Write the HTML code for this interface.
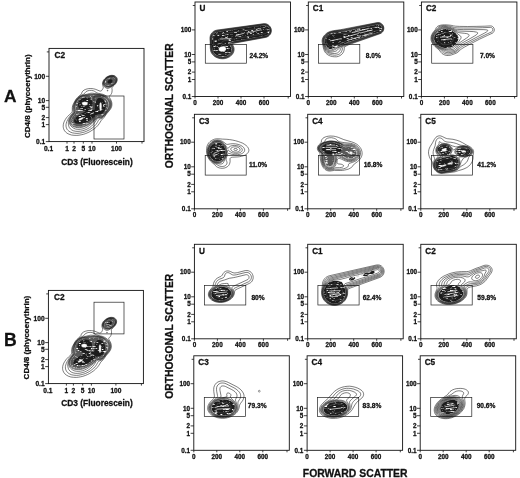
<!DOCTYPE html>
<html lang="en">
<head>
<meta charset="utf-8">
<title>Flow cytometry contour plots</title>
<style>
html,body{margin:0;padding:0;background:#fff;}
body{width:520px;height:478px;overflow:hidden;}
svg text{font-family:"Liberation Sans",sans-serif;stroke:#111;stroke-width:0.28px;stroke-linejoin:round;}
</style>
</head>
<body>
<svg width="520" height="478" viewBox="0 0 520 478" font-family='"Liberation Sans", sans-serif' fill="#111" style="display:block">
<defs>
<filter id="mot" x="0" y="0" width="520" height="478" filterUnits="userSpaceOnUse" color-interpolation-filters="sRGB">
<feTurbulence type="fractalNoise" baseFrequency="0.28 0.95" numOctaves="2" seed="11" result="n"/>
<feColorMatrix in="n" type="matrix" values="0 0 0 0 0  0 0 0 0 0  0 0 0 0 0  -4.6 0 0 0 3.62" result="a"/>
<feComposite in="SourceGraphic" in2="a" operator="in"/>
</filter>
</defs>
<g filter="url(#mot)"><path d="M224.2 56.5L222.5 56.7L220.8 56.5L219.0 56.1L217.2 55.4L215.8 54.6L214.5 53.5L213.6 52.2L212.9 51.0L212.3 49.2L212.0 47.0L211.8 39.8L211.8 38.0L212.1 36.5L212.8 35.0L213.8 33.8L214.8 33.0L216.0 32.4L217.0 32.1L264.0 25.4L265.2 25.5L266.5 25.9L267.8 26.7L268.7 27.8L269.2 28.8L269.5 30.0L269.6 31.0L269.3 32.2L268.8 33.2L268.1 34.2L267.2 34.9L266.2 35.4L265.2 35.7L232.2 41.5L229.9 42.0L228.7 42.5L228.4 42.8L228.3 43.0L228.4 43.5L230.4 46.0L230.9 46.8L231.2 47.8L231.4 48.5L231.5 49.5L231.4 50.5L231.2 51.2L230.9 52.0L230.3 53.0L229.7 53.8L228.8 54.6L227.8 55.3L226.5 55.9L225.2 56.3Z" fill="#1c1c1c" fill-rule="evenodd" stroke="none"/>
<path d="M330.6 49.0L329.6 49.0L328.8 48.7L328.1 48.2L327.2 47.2L326.2 45.5L325.2 43.5L324.8 42.0L324.6 40.8L324.7 39.8L324.9 38.8L325.3 37.8L326.0 36.8L326.8 35.8L327.8 34.9L328.8 34.2L330.1 33.6L332.1 32.9L335.1 32.3L337.6 32.0L342.8 31.8L345.6 31.4L377.6 24.5L378.8 24.6L380.0 25.0L380.9 25.8L381.6 26.8L381.8 27.5L381.9 28.2L381.8 29.0L381.6 29.8L381.3 30.3L380.8 31.0L380.3 31.4L379.6 31.8L348.4 42.0L345.8 43.0L339.8 45.7L335.1 47.6L332.1 48.7Z" fill="#1c1c1c" fill-rule="evenodd" stroke="none"/>
<path d="M448.6 48.0L446.6 48.2L444.6 48.0L442.4 47.4L440.1 46.5L438.4 45.5L436.8 44.2L435.5 42.8L434.7 41.2L434.2 39.8L434.1 38.0L434.4 36.2L435.1 34.8L436.1 33.2L437.4 32.0L439.1 30.8L440.9 29.9L442.1 29.5L443.1 29.2L445.1 29.0L446.4 29.1L447.6 29.3L450.4 30.1L452.6 31.1L453.9 31.9L455.1 32.8L456.9 34.5L457.6 35.5L458.0 36.2L458.3 37.0L458.4 37.8L458.4 38.5L458.2 39.5L457.9 40.5L457.4 41.5L455.9 43.8L454.1 45.4L452.4 46.7L450.6 47.5Z" fill="#1c1c1c" fill-rule="evenodd" stroke="none"/>
<path d="M219.2 161.3L217.7 161.5L215.9 161.4L214.4 160.8L212.9 159.9L211.7 158.8L210.6 157.3L209.7 155.6L209.2 153.6L209.1 151.8L209.2 149.8L209.7 148.1L210.6 146.3L211.7 144.9L212.9 143.8L214.4 142.9L216.2 142.4L217.9 142.4L219.4 142.7L220.9 143.3L222.2 144.2L223.2 145.3L224.2 146.8L225.0 148.6L225.3 150.1L225.5 151.8L225.3 153.8L224.8 155.6L224.0 157.3L223.0 158.8L221.9 159.9L220.7 160.8Z" fill="#1c1c1c" fill-rule="evenodd" stroke="none"/>
<path d="M329.9 166.3L328.7 166.3L327.4 165.8L326.3 164.8L325.4 163.6L324.9 162.6L324.5 161.6L324.0 159.3L324.0 157.3L324.4 154.8L324.3 154.3L323.8 153.6L321.7 151.8L321.0 151.1L320.4 150.3L319.9 149.3L319.8 148.6L319.8 147.8L320.2 146.6L321.2 145.3L322.7 144.2L324.2 143.4L325.4 143.0L327.2 142.5L328.7 142.2L330.2 142.1L331.9 142.1L333.4 142.2L335.2 142.4L337.4 143.0L339.7 143.9L341.4 144.9L343.7 146.7L344.4 147.1L345.4 147.3L347.9 147.1L349.4 147.1L350.9 147.3L352.2 147.7L353.2 148.1L354.2 148.8L354.9 149.5L355.6 150.3L356.1 151.6L356.4 152.8L356.3 154.1L355.8 155.3L355.1 156.3L354.1 157.3L352.9 158.0L351.4 158.5L350.4 158.6L349.2 158.6L347.9 158.4L346.9 158.1L345.2 157.2L341.4 154.7L339.9 154.0L339.2 154.0L337.9 154.1L336.7 154.3L335.4 154.8L335.0 155.1L334.8 155.6L334.7 158.1L334.5 159.8L334.1 161.8L333.4 163.5L332.8 164.6L331.9 165.5L330.9 166.1Z" fill="#585858" fill-rule="evenodd" stroke="none"/>
<path d="M331.4 154.3L330.4 154.4L329.4 154.3L328.4 154.2L327.4 153.9L326.4 153.5L325.4 152.9L323.4 151.3L322.7 150.6L322.2 149.9L321.9 149.3L321.8 148.6L321.8 148.1L321.9 147.3L322.2 146.8L322.7 146.1L323.4 145.4L324.4 144.8L325.4 144.3L326.7 143.8L329.2 143.3L331.9 143.2L333.4 143.3L334.9 143.5L337.4 144.3L339.4 145.3L340.4 146.1L341.1 146.8L341.8 148.1L341.9 148.8L341.9 149.3L341.8 149.8L341.6 150.3L340.7 151.2L339.4 151.9L337.9 152.6L333.2 153.9Z" fill="#1c1c1c" fill-rule="evenodd" stroke="none"/>
<path d="M444.8 155.3L443.5 155.3L442.5 155.1L441.3 154.7L440.3 154.2L439.4 153.6L438.6 152.8L438.1 152.1L437.7 151.1L437.6 150.3L437.7 149.3L438.0 148.3L438.4 147.6L439.0 146.8L439.8 146.2L440.8 145.6L441.8 145.2L443.0 144.9L444.5 144.9L446.0 145.1L447.3 145.5L448.5 146.1L449.5 146.9L450.4 148.1L450.8 149.1L451.0 150.3L450.8 151.3L450.4 152.3L449.6 153.3L448.5 154.2L447.5 154.7L446.0 155.2ZM463.8 155.8L461.8 155.7L460.0 155.4L458.5 154.7L457.3 153.8L456.5 152.8L456.2 151.8L456.2 151.3L456.4 150.6L457.1 149.6L458.0 148.7L459.5 148.0L461.3 147.5L463.0 147.3L464.8 147.4L466.5 147.8L468.0 148.4L469.3 149.3L470.0 150.3L470.3 151.3L470.3 152.1L470.1 152.6L469.5 153.6L468.5 154.4L467.0 155.1L465.3 155.6ZM442.8 171.3L441.8 171.4L440.8 171.3L439.8 171.1L438.8 170.6L437.8 170.0L437.0 169.3L436.4 168.6L435.9 167.6L435.5 166.6L435.3 165.6L435.3 164.6L435.4 163.3L435.7 162.3L436.2 161.3L436.8 160.5L437.5 159.8L438.8 158.9L440.3 158.3L446.8 156.9L451.3 156.1L452.8 156.1L454.3 156.6L455.5 157.2L456.8 158.3L457.5 159.3L458.2 160.6L458.5 161.8L458.6 163.1L458.4 164.3L457.9 165.8L457.3 166.8L456.5 167.8L455.0 168.8L453.5 169.4Z" fill="#1c1c1c" fill-rule="evenodd" stroke="none"/>
<path d="M222.9 300.3L221.4 300.5L219.9 300.5L218.7 300.4L217.2 300.1L215.9 299.7L214.7 299.2L213.7 298.5L212.7 297.6L212.0 296.8L211.5 295.8L211.3 294.8L211.3 293.8L211.5 292.8L212.0 291.8L212.7 290.8L213.4 290.1L215.2 288.8L217.4 287.7L219.7 287.0L221.9 286.7L224.2 286.9L226.2 287.4L227.2 287.8L228.2 288.4L228.9 288.9L229.7 289.6L230.2 290.3L230.7 291.1L231.0 291.8L231.2 292.8L231.2 293.6L231.0 294.6L230.7 295.3L230.3 296.1L229.8 296.8L229.1 297.6L227.4 298.7L225.4 299.7Z" fill="#1c1c1c" fill-rule="evenodd" stroke="none"/>
<path d="M366.2 276.1L364.9 276.2L363.7 276.0L363.3 275.8L363.1 275.6L363.0 275.3L363.1 274.8L363.4 274.3L363.9 273.8L365.2 273.1L366.2 272.7L366.9 272.6L369.2 272.8L369.7 272.5L370.7 271.6L371.9 271.0L372.9 270.9L373.7 271.1L374.2 271.3L374.6 271.8L374.6 272.3L374.4 272.8L373.8 273.3L373.2 273.7L371.9 274.0L370.2 274.0L369.7 274.1L367.9 275.4L366.9 275.9ZM351.7 280.6L350.9 280.6L350.2 280.5L349.7 280.3L349.2 279.8L349.1 279.6L349.1 279.1L349.4 278.6L349.9 278.1L350.6 277.6L351.2 277.2L352.7 276.9L353.4 276.9L354.2 277.0L354.8 277.3L355.0 277.6L355.2 277.8L355.2 278.3L355.0 278.8L354.6 279.3L354.0 279.8L353.2 280.2ZM335.9 303.3L333.7 303.4L331.4 302.9L329.4 302.1L328.4 301.5L327.4 300.8L326.6 300.1L325.8 299.1L325.1 298.1L324.6 297.1L324.1 295.8L323.9 294.8L323.7 292.8L323.9 290.6L324.2 289.3L324.6 288.1L325.8 285.8L326.5 284.8L327.4 283.8L328.9 282.6L329.7 282.1L330.7 281.7L333.2 281.1L335.7 280.9L337.9 281.1L339.9 281.4L341.2 281.8L341.7 282.1L342.1 282.6L342.6 283.3L343.3 284.8L344.6 288.1L345.3 290.6L345.5 292.6L345.3 294.6L344.8 296.6L343.9 298.3L342.8 299.8L341.4 301.1L339.7 302.2L337.9 302.9Z" fill="#1c1c1c" fill-rule="evenodd" stroke="none"/>
<path d="M451.0 302.1L448.3 302.1L445.5 301.7L443.3 301.0L442.3 300.5L441.3 299.9L440.5 299.3L439.9 298.6L439.3 297.8L439.0 297.1L438.7 296.3L438.6 295.3L438.7 294.6L438.9 293.6L439.1 292.8L439.7 291.8L440.4 290.8L441.3 289.9L443.3 288.3L445.8 286.9L448.8 285.7L450.5 285.2L451.8 285.0L454.0 284.9L455.3 285.1L456.3 285.4L458.0 286.1L459.8 287.2L461.1 288.3L462.2 289.6L462.9 290.8L463.3 292.1L463.4 293.3L463.1 294.8L462.5 296.1L461.5 297.4L460.3 298.6L458.8 299.6L457.3 300.4L455.3 301.2L453.3 301.7Z" fill="#1c1c1c" fill-rule="evenodd" stroke="none"/>
<path d="M224.1 415.6L222.3 415.6L220.3 415.4L218.8 415.2L217.1 414.6L215.6 413.9L214.3 413.0L213.2 412.1L212.3 410.8L211.8 409.6L211.6 408.3L211.6 407.1L212.0 405.8L212.7 404.6L213.8 403.3L214.9 402.3L216.3 401.4L218.6 400.4L221.3 399.7L224.1 399.5L226.6 399.7L228.8 400.2L230.1 400.7L231.1 401.3L232.1 401.9L232.8 402.6L233.6 403.5L234.1 404.3L234.5 405.1L234.8 406.1L234.9 407.1L234.8 408.1L234.7 408.8L234.3 409.8L233.7 410.8L233.1 411.6L232.4 412.3L231.4 413.1L229.3 414.3L226.8 415.1Z" fill="#1c1c1c" fill-rule="evenodd" stroke="none"/>
<path d="M335.1 415.3L332.1 415.3L330.6 415.2L329.4 414.9L327.9 414.4L326.9 414.0L325.9 413.4L325.1 412.8L324.4 412.1L324.0 411.3L323.7 410.6L323.6 409.6L323.7 408.6L324.0 407.8L324.6 406.8L325.2 406.1L326.1 405.2L327.1 404.4L328.4 403.7L329.9 402.9L331.4 402.4L332.9 402.0L335.9 401.4L338.9 401.3L340.1 401.4L341.6 401.7L342.9 402.1L343.9 402.5L344.9 403.1L345.7 403.8L346.4 404.6L346.9 405.3L347.2 406.1L347.4 407.1L347.3 408.1L347.0 409.1L346.4 410.1L345.8 410.8L344.9 411.7L343.9 412.5L342.6 413.2L341.1 413.9L339.6 414.5L338.1 414.9Z" fill="#1c1c1c" fill-rule="evenodd" stroke="none"/>
<path d="M448.7 414.1L446.4 414.1L444.4 413.8L443.4 413.5L442.7 413.1L441.9 412.6L441.4 412.1L440.8 411.3L440.5 410.6L440.3 409.8L440.2 409.1L440.4 407.6L440.6 406.8L441.1 405.8L441.7 404.8L442.4 404.1L443.9 402.6L445.9 401.4L448.2 400.4L450.4 399.9L452.7 399.8L454.7 400.1L455.7 400.4L456.4 400.8L457.4 401.5L458.2 402.3L458.6 403.1L458.9 404.1L459.0 405.1L458.9 406.1L458.6 407.3L458.1 408.3L457.4 409.3L456.5 410.3L455.4 411.2L454.2 412.1L452.9 412.8L451.4 413.4L450.2 413.8Z" fill="#1c1c1c" fill-rule="evenodd" stroke="none"/>
<path d="M109.8 85.7L108.5 85.8L107.5 85.8L106.5 85.4L105.7 84.9L105.1 84.2L104.8 83.2L104.9 82.2L105.2 81.2L105.7 80.2L106.6 79.2L107.8 78.3L108.8 77.7L110.0 77.3L111.2 77.1L112.2 77.1L113.2 77.4L113.8 77.7L114.4 78.2L114.7 78.7L115.0 79.2L115.1 79.7L115.1 80.4L114.8 81.7L114.0 83.0L112.8 84.2L111.5 85.0ZM80.5 126.2L78.8 126.3L77.0 126.2L75.2 125.8L73.8 125.3L72.8 124.6L71.8 123.7L71.3 122.7L71.0 121.4L71.0 120.7L71.1 119.7L71.4 118.7L71.9 117.7L72.9 115.9L75.4 112.9L75.8 112.2L76.1 111.4L76.2 110.4L75.8 108.4L75.7 107.2L75.7 105.9L75.9 104.7L76.3 102.9L76.8 101.7L77.5 100.4L78.3 99.4L79.2 98.5L80.5 97.6L81.8 97.0L83.2 96.4L85.8 96.0L92.8 95.6L94.5 95.6L99.0 95.8L100.8 96.0L102.0 96.3L103.0 96.8L104.0 97.4L105.0 98.2L106.7 99.9L107.7 101.4L108.1 102.4L108.3 103.2L108.5 104.9L108.2 106.7L107.4 108.7L105.6 111.9L104.1 113.9L103.0 115.0L101.8 115.8L100.5 116.1L98.0 116.3L97.0 116.8L96.2 117.4L93.8 119.8L92.2 121.1L90.2 122.6L88.2 123.7L86.5 124.6L84.5 125.3L82.5 125.8Z" fill="#585858" fill-rule="evenodd" stroke="none"/>
<path d="M110.2 83.4L109.5 83.6L109.0 83.6L108.5 83.5L108.0 83.3L107.5 82.6L107.4 82.2L107.5 81.5L107.8 80.9L108.2 80.4L109.2 79.7L109.9 79.4L110.5 79.3L111.5 79.4L112.0 79.7L112.4 80.2L112.5 80.7L112.4 81.4L112.0 82.2L111.6 82.7L110.8 83.2ZM81.5 123.7L80.0 123.8L78.5 123.8L77.2 123.7L76.2 123.4L75.2 122.9L74.7 122.4L74.2 121.7L74.1 120.9L74.2 119.9L74.5 119.1L75.7 117.7L77.0 116.4L78.5 115.3L80.0 114.3L84.5 111.9L85.6 111.2L85.6 110.9L82.8 110.4L81.2 109.8L80.2 109.2L79.5 108.6L78.9 107.7L78.4 106.7L78.2 105.9L78.0 104.9L78.0 103.9L78.2 103.2L78.5 102.2L79.0 101.2L79.6 100.4L80.7 99.4L81.8 98.7L83.0 98.1L84.5 97.7L86.0 97.6L87.5 97.7L89.2 98.0L90.4 98.4L91.4 99.7L92.2 101.2L92.6 102.7L92.6 104.2L92.3 105.4L91.6 106.9L90.8 108.1L89.2 109.7L89.1 109.9L89.2 110.1L89.8 110.2L93.5 110.1L94.4 109.9L94.8 109.4L95.0 108.4L95.0 105.2L95.4 103.2L95.8 101.7L96.4 100.4L97.0 99.4L97.5 98.7L97.8 98.4L98.5 98.1L99.5 97.9L100.2 98.0L101.0 98.1L101.8 98.4L103.0 99.2L104.1 100.4L105.0 101.9L105.5 103.7L105.7 105.4L105.6 107.4L105.2 109.2L104.4 110.9L103.4 112.4L102.3 113.4L101.2 114.0L100.2 114.2L97.8 114.5L96.2 115.1L95.8 115.4L94.5 116.7L91.2 119.3L89.5 120.5L87.8 121.5L86.2 122.2L84.8 122.8L83.2 123.3Z" fill="#1c1c1c" fill-rule="evenodd" stroke="none"/>
<path d="M109.2 327.7L107.9 327.8L106.9 327.8L105.9 327.4L105.1 326.9L104.5 326.1L104.2 325.1L104.3 324.1L104.6 323.1L105.1 322.1L106.0 321.1L107.2 320.3L108.2 319.7L109.4 319.3L110.7 319.1L111.7 319.1L112.7 319.4L113.2 319.7L113.8 320.1L114.1 320.6L114.4 321.1L114.5 321.6L114.5 322.4L114.2 323.6L113.4 325.0L112.2 326.2L110.9 327.0ZM79.9 368.2L78.2 368.3L76.4 368.2L74.7 367.8L73.2 367.3L72.2 366.6L71.2 365.6L70.7 364.6L70.4 363.4L70.4 362.6L70.5 361.6L70.8 360.6L71.3 359.6L72.3 357.9L74.8 354.9L75.2 354.1L75.5 353.4L75.6 352.4L75.2 350.4L75.1 349.1L75.1 347.9L75.3 346.6L75.7 344.9L76.2 343.6L76.9 342.4L77.7 341.4L78.7 340.5L79.9 339.6L81.2 339.0L82.7 338.4L85.2 338.0L92.2 337.6L93.9 337.6L98.4 337.8L100.2 338.0L101.4 338.3L102.4 338.8L103.4 339.4L104.4 340.1L106.1 341.9L107.1 343.4L107.5 344.4L107.7 345.1L107.9 346.9L107.6 348.6L106.8 350.6L105.0 353.9L103.5 355.9L102.4 357.0L101.2 357.8L99.9 358.1L97.4 358.3L96.4 358.8L95.6 359.4L93.2 361.8L91.7 363.1L89.7 364.6L87.7 365.7L85.9 366.6L83.9 367.3L81.9 367.8Z" fill="#585858" fill-rule="evenodd" stroke="none"/>
<path d="M109.7 325.4L108.9 325.6L108.4 325.6L107.9 325.5L107.4 325.3L106.9 324.6L106.8 324.1L106.9 323.5L107.2 322.9L107.6 322.4L108.6 321.6L109.3 321.4L109.9 321.3L110.9 321.4L111.4 321.7L111.8 322.1L111.9 322.6L111.8 323.4L111.4 324.1L111.0 324.6L110.2 325.1ZM80.9 365.7L79.4 365.8L77.9 365.8L76.7 365.7L75.7 365.4L74.7 364.9L74.1 364.4L73.6 363.6L73.5 362.9L73.6 361.9L73.9 361.1L75.1 359.6L76.4 358.4L77.9 357.3L79.4 356.3L83.9 353.9L85.0 353.1L85.0 352.9L82.2 352.4L80.7 351.8L79.7 351.2L78.9 350.6L78.3 349.6L77.8 348.6L77.6 347.9L77.4 346.9L77.4 345.9L77.6 345.1L77.9 344.1L78.4 343.1L79.0 342.4L80.1 341.4L81.2 340.7L82.4 340.1L83.9 339.7L85.4 339.6L86.9 339.7L88.7 340.0L89.8 340.4L90.8 341.6L91.6 343.1L92.0 344.6L92.0 346.1L91.7 347.4L91.0 348.9L90.2 350.1L88.6 351.6L88.5 351.9L88.7 352.1L89.2 352.2L92.9 352.1L93.8 351.9L94.2 351.4L94.4 350.4L94.4 347.1L94.8 345.1L95.2 343.6L95.8 342.4L96.4 341.4L96.9 340.7L97.2 340.4L97.9 340.1L98.9 339.9L99.7 340.0L100.4 340.1L101.2 340.4L102.4 341.1L103.5 342.4L104.4 343.9L104.9 345.6L105.1 347.4L105.0 349.4L104.6 351.1L103.8 352.9L102.8 354.4L101.7 355.4L100.7 356.0L99.7 356.2L97.2 356.5L95.7 357.1L95.2 357.4L93.9 358.7L90.7 361.3L88.9 362.5L87.2 363.5L85.7 364.2L84.2 364.8L82.7 365.3Z" fill="#1c1c1c" fill-rule="evenodd" stroke="none"/></g>
<rect x="195.00" y="2.00" width="95.50" height="94.50" fill="none" stroke="#111" stroke-width="0.90"/>
<line x1="191.80" y1="29.90" x2="195.00" y2="29.90" stroke="#111" stroke-width="0.80"/>
<text x="191.30" y="32.15" font-size="6.35" font-weight="bold" text-anchor="end">100</text>
<line x1="191.80" y1="54.50" x2="195.00" y2="54.50" stroke="#111" stroke-width="0.80"/>
<text x="191.30" y="56.75" font-size="6.35" font-weight="bold" text-anchor="end">10</text>
<line x1="191.80" y1="61.90" x2="195.00" y2="61.90" stroke="#111" stroke-width="0.80"/>
<text x="191.30" y="64.15" font-size="6.35" font-weight="bold" text-anchor="end">5</text>
<line x1="191.80" y1="72.10" x2="195.00" y2="72.10" stroke="#111" stroke-width="0.80"/>
<text x="191.30" y="74.35" font-size="6.35" font-weight="bold" text-anchor="end">2</text>
<line x1="191.80" y1="79.50" x2="195.00" y2="79.50" stroke="#111" stroke-width="0.80"/>
<text x="191.30" y="81.75" font-size="6.35" font-weight="bold" text-anchor="end">1</text>
<line x1="191.80" y1="96.50" x2="195.00" y2="96.50" stroke="#111" stroke-width="0.80"/>
<text x="191.30" y="98.75" font-size="6.35" font-weight="bold" text-anchor="end">0.1</text>
<line x1="192.80" y1="5.50" x2="195.00" y2="5.50" stroke="#111" stroke-width="0.80"/>
<line x1="195.00" y1="96.50" x2="195.00" y2="98.50" stroke="#111" stroke-width="0.80"/>
<text x="195.00" y="104.70" font-size="6.35" font-weight="bold" text-anchor="middle">0</text>
<line x1="218.00" y1="96.50" x2="218.00" y2="98.50" stroke="#111" stroke-width="0.80"/>
<text x="218.00" y="104.70" font-size="6.35" font-weight="bold" text-anchor="middle">200</text>
<line x1="241.00" y1="96.50" x2="241.00" y2="98.50" stroke="#111" stroke-width="0.80"/>
<text x="241.00" y="104.70" font-size="6.35" font-weight="bold" text-anchor="middle">400</text>
<line x1="264.00" y1="96.50" x2="264.00" y2="98.50" stroke="#111" stroke-width="0.80"/>
<text x="264.00" y="104.70" font-size="6.35" font-weight="bold" text-anchor="middle">600</text>
<line x1="288.20" y1="96.50" x2="288.20" y2="98.50" stroke="#111" stroke-width="0.80"/>
<text x="199.50" y="11.40" font-size="8.20" font-weight="bold" text-anchor="start">U</text>
<rect x="205.30" y="44.40" width="41.20" height="18.80" fill="none" stroke="#222" stroke-width="0.70"/>
<path d="M222.8 58.8L220.8 58.7L219.0 58.4L217.2 57.8L215.2 56.9L213.8 55.8L212.5 54.5L211.6 53.2L210.8 51.5L210.5 49.8L210.3 48.2L210.2 42.2L210.0 38.8L210.1 37.0L210.4 35.5L211.1 34.0L212.2 32.5L213.5 31.4L215.0 30.6L216.8 30.1L263.8 23.7L264.8 23.7L265.8 23.8L266.8 24.1L267.5 24.4L269.0 25.4L270.2 26.8L270.9 28.2L271.3 29.8L271.3 31.0L271.1 32.5L270.5 34.0L269.6 35.2L268.5 36.2L267.2 36.9L265.8 37.4L235.0 43.0L233.8 43.3L232.8 43.6L232.5 43.9L232.5 44.2L233.4 46.2L233.8 47.2L234.1 48.5L234.1 49.5L234.0 50.8L233.6 52.0L233.2 53.0L232.6 54.0L231.8 55.0L230.8 56.0L229.8 56.7L228.5 57.4L227.2 57.9L225.8 58.4L224.2 58.7ZM224.0 58.3L222.0 58.4L220.0 58.2L218.0 57.6L216.2 56.9L214.5 55.8L213.3 54.8L212.1 53.2L211.4 51.8L210.9 50.0L210.7 48.0L210.5 41.8L210.4 39.0L210.4 37.5L210.7 36.0L211.4 34.2L212.5 32.8L213.8 31.7L215.2 31.0L216.8 30.5L263.8 24.0L265.5 24.1L266.5 24.3L267.2 24.6L268.0 25.1L268.8 25.6L269.4 26.2L269.9 27.0L270.6 28.2L271.0 29.8L271.0 31.2L270.6 32.8L270.1 34.0L269.2 35.1L268.2 36.0L267.0 36.7L265.5 37.1L234.2 42.8L233.0 43.0L232.0 43.4L231.7 43.8L231.8 44.2L233.1 46.8L233.4 47.8L233.6 49.0L233.6 50.0L233.4 51.0L233.1 52.0L232.7 53.0L232.0 54.0L231.1 55.0L230.2 55.8L229.0 56.6L228.0 57.2L226.8 57.7L225.2 58.1ZM224.8 57.8L222.8 58.0L220.8 57.9L219.0 57.6L217.0 56.9L215.2 55.9L214.0 54.9L212.8 53.5L211.9 52.0L211.3 50.2L211.0 47.8L210.7 39.0L210.7 37.8L211.0 36.0L211.7 34.5L212.6 33.2L213.8 32.2L215.2 31.3L216.8 30.9L263.8 24.3L265.5 24.4L267.0 24.9L267.8 25.3L268.5 25.8L269.6 27.0L270.3 28.5L270.6 29.8L270.7 31.2L270.4 32.5L269.8 33.8L269.0 34.9L268.0 35.8L266.8 36.4L265.2 36.8L233.7 42.5L232.0 42.9L231.3 43.2L231.1 43.5L231.1 44.0L232.5 46.5L232.9 47.5L233.1 48.5L233.1 50.2L232.9 51.2L232.5 52.2L232.0 53.2L231.3 54.2L230.5 55.0L229.5 55.9L228.2 56.6L227.2 57.1L226.2 57.4ZM224.2 57.5L222.2 57.7L220.5 57.5L218.8 57.1L216.8 56.4L215.2 55.5L213.8 54.2L212.8 53.0L212.1 51.5L211.5 49.8L211.2 47.2L211.0 39.2L211.0 37.8L211.4 36.0L211.9 34.8L212.8 33.5L214.0 32.4L215.5 31.6L217.0 31.2L263.8 24.6L265.2 24.6L266.2 24.9L267.0 25.2L268.3 26.0L269.4 27.2L270.0 28.5L270.4 29.8L270.4 31.0L270.2 32.2L269.7 33.5L269.0 34.5L268.0 35.4L266.8 36.1L266.0 36.4L265.0 36.6L233.3 42.2L231.8 42.6L230.7 43.0L230.5 43.2L230.4 43.8L232.1 46.5L232.5 47.5L232.7 48.5L232.7 49.5L232.6 50.5L232.1 52.2L231.5 53.2L230.8 54.2L230.0 55.0L229.0 55.8L228.0 56.3L226.8 56.9L225.5 57.3ZM223.8 57.3L222.0 57.3L220.0 57.1L218.2 56.6L216.5 55.9L215.0 54.9L213.8 53.8L212.9 52.5L212.2 51.0L211.7 49.0L211.4 46.8L211.2 39.2L211.3 37.5L211.7 36.0L212.4 34.5L213.2 33.4L214.5 32.4L215.8 31.8L217.0 31.5L264.0 24.9L265.5 25.0L267.0 25.5L268.2 26.3L269.2 27.5L269.8 28.8L270.1 29.8L270.1 31.0L269.9 32.2L269.4 33.5L268.6 34.5L267.5 35.4L266.5 35.9L264.8 36.4L233.0 42.0L231.2 42.4L230.3 42.8L229.9 43.0L229.8 43.2L229.8 43.8L231.5 46.2L232.0 47.2L232.2 48.2L232.3 49.0L232.3 50.0L232.1 51.0L231.8 52.0L231.3 53.0L230.5 54.0L229.7 54.8L228.8 55.5L227.8 56.1L226.5 56.6L225.0 57.1ZM222.8 57.0L221.0 56.9L219.2 56.6L217.5 56.0L216.0 55.2L214.8 54.2L213.8 53.1L212.9 51.8L212.4 50.5L211.9 48.5L211.7 46.5L211.5 39.5L211.6 37.8L211.9 36.2L212.6 34.8L213.5 33.6L214.8 32.6L215.8 32.1L217.0 31.8L264.0 25.2L265.2 25.2L266.8 25.7L268.0 26.5L269.1 27.8L269.5 28.8L269.8 30.0L269.8 31.0L269.6 32.2L269.2 33.2L268.5 34.2L267.5 35.1L266.5 35.6L265.5 36.0L232.7 41.8L230.4 42.2L229.5 42.6L229.1 43.0L229.1 43.5L229.4 44.0L230.5 45.4L231.1 46.2L231.5 47.2L231.8 48.2L231.9 49.2L231.9 50.2L231.6 51.2L231.3 52.0L230.8 53.0L230.0 54.0L229.0 54.9L228.0 55.6L226.8 56.2L225.5 56.6L224.2 56.9Z" fill="none" stroke="#111" stroke-width="0.55" stroke-linejoin="round"/>
<path d="M223.5 54.0L222.2 54.1L220.8 53.9L219.2 53.5L217.5 52.8L216.5 52.2L215.7 51.5L215.0 50.6L214.4 49.5L214.1 48.5L213.9 47.2L213.9 44.0L213.4 40.8L213.4 39.0L213.6 37.8L214.1 36.5L214.9 35.5L215.8 34.8L216.5 34.5L217.2 34.3L221.5 33.9L264.0 27.5L265.0 27.5L265.8 27.8L266.5 28.3L267.1 29.0L267.3 29.5L267.5 30.2L267.5 31.0L267.3 31.8L267.0 32.3L266.5 32.9L266.0 33.3L265.2 33.6L228.2 39.9L224.8 40.6L222.8 41.3L222.2 41.8L221.8 42.4L221.7 43.0L222.0 43.7L222.8 44.2L225.5 45.3L226.8 46.2L227.3 46.8L227.8 47.5L228.1 48.2L228.3 49.2L228.3 50.0L228.0 50.9L227.5 51.8L227.0 52.4L226.2 53.0L225.5 53.4L224.5 53.8Z" fill="none" stroke="#666" stroke-width="0.40" stroke-linejoin="round"/>
<ellipse cx="222.4" cy="49.0" rx="3.7" ry="2.6" transform="rotate(-8 222.4 49.0)" fill="#fff" stroke="#888" stroke-width="0.3"/>
<path d="M220.0 39.0L231.0 38.6M236.0 35.6L244.0 33.2M247.0 33.0L261.0 29.8" fill="none" stroke="#fff" stroke-opacity="0.85" stroke-width="0.8" stroke-linecap="round"/>
<text x="249.50" y="58.00" font-size="6.60" font-weight="bold" text-anchor="start">24.2%</text>
<rect x="308.30" y="2.00" width="95.50" height="94.50" fill="none" stroke="#111" stroke-width="0.90"/>
<line x1="305.10" y1="29.90" x2="308.30" y2="29.90" stroke="#111" stroke-width="0.80"/>
<text x="304.60" y="32.15" font-size="6.35" font-weight="bold" text-anchor="end">100</text>
<line x1="305.10" y1="54.50" x2="308.30" y2="54.50" stroke="#111" stroke-width="0.80"/>
<text x="304.60" y="56.75" font-size="6.35" font-weight="bold" text-anchor="end">10</text>
<line x1="305.10" y1="61.90" x2="308.30" y2="61.90" stroke="#111" stroke-width="0.80"/>
<text x="304.60" y="64.15" font-size="6.35" font-weight="bold" text-anchor="end">5</text>
<line x1="305.10" y1="72.10" x2="308.30" y2="72.10" stroke="#111" stroke-width="0.80"/>
<text x="304.60" y="74.35" font-size="6.35" font-weight="bold" text-anchor="end">2</text>
<line x1="305.10" y1="79.50" x2="308.30" y2="79.50" stroke="#111" stroke-width="0.80"/>
<text x="304.60" y="81.75" font-size="6.35" font-weight="bold" text-anchor="end">1</text>
<line x1="305.10" y1="96.50" x2="308.30" y2="96.50" stroke="#111" stroke-width="0.80"/>
<text x="304.60" y="98.75" font-size="6.35" font-weight="bold" text-anchor="end">0.1</text>
<line x1="306.10" y1="5.50" x2="308.30" y2="5.50" stroke="#111" stroke-width="0.80"/>
<line x1="308.30" y1="96.50" x2="308.30" y2="98.50" stroke="#111" stroke-width="0.80"/>
<text x="308.30" y="104.70" font-size="6.35" font-weight="bold" text-anchor="middle">0</text>
<line x1="331.30" y1="96.50" x2="331.30" y2="98.50" stroke="#111" stroke-width="0.80"/>
<text x="331.30" y="104.70" font-size="6.35" font-weight="bold" text-anchor="middle">200</text>
<line x1="354.30" y1="96.50" x2="354.30" y2="98.50" stroke="#111" stroke-width="0.80"/>
<text x="354.30" y="104.70" font-size="6.35" font-weight="bold" text-anchor="middle">400</text>
<line x1="377.30" y1="96.50" x2="377.30" y2="98.50" stroke="#111" stroke-width="0.80"/>
<text x="377.30" y="104.70" font-size="6.35" font-weight="bold" text-anchor="middle">600</text>
<line x1="401.50" y1="96.50" x2="401.50" y2="98.50" stroke="#111" stroke-width="0.80"/>
<text x="312.80" y="11.40" font-size="8.20" font-weight="bold" text-anchor="start">C1</text>
<rect x="318.60" y="44.40" width="41.20" height="18.80" fill="none" stroke="#222" stroke-width="0.70"/>
<path d="M336.6 56.8L334.6 56.8L332.6 56.6L330.6 56.1L328.6 55.3L327.1 54.3L325.9 53.2L324.8 51.8L324.1 50.2L323.4 48.0L322.8 44.8L322.2 42.2L322.1 41.0L322.2 39.8L322.7 38.0L323.7 36.2L325.1 34.6L326.8 33.1L328.1 32.3L329.1 31.9L330.3 31.4L331.6 31.1L335.3 30.4L340.2 29.8L343.1 29.2L377.3 22.6L378.3 22.5L379.1 22.6L380.6 23.1L381.8 23.9L382.8 25.0L383.4 26.0L383.7 27.0L383.9 28.2L383.7 29.5L383.4 30.5L382.9 31.5L382.3 32.3L381.3 33.1L380.1 33.7L351.3 43.8L348.6 44.8L346.5 45.8L345.3 46.5L344.8 47.0L344.5 47.5L344.3 48.2L344.1 50.0L343.8 51.2L343.2 52.5L342.3 53.8L341.1 54.9L339.8 55.7L338.3 56.4ZM336.6 55.0L334.8 55.2L332.8 55.0L330.6 54.6L328.8 54.0L327.6 53.2L326.4 52.2L325.5 51.0L324.7 49.5L324.1 47.8L322.8 42.5L322.6 41.0L322.7 39.8L323.2 38.0L324.2 36.2L325.8 34.5L327.6 33.1L329.6 32.1L330.8 31.7L332.3 31.3L335.1 30.8L339.9 30.2L343.1 29.8L377.3 22.9L378.8 22.9L380.3 23.3L381.1 23.8L381.7 24.2L382.2 24.8L382.7 25.5L383.2 26.5L383.5 27.5L383.5 28.5L383.4 29.5L382.9 30.8L382.5 31.5L381.8 32.2L381.1 32.8L379.8 33.4L350.5 43.5L347.8 44.5L345.6 45.5L343.9 46.5L342.9 47.5L342.5 48.2L342.1 50.2L341.7 51.2L341.2 52.2L340.6 53.0L339.8 53.7L338.8 54.3L337.8 54.7ZM336.3 53.3L334.6 53.5L332.1 53.4L330.3 53.2L329.1 52.8L327.8 52.2L326.8 51.3L325.9 50.2L325.2 48.8L324.6 47.2L323.2 42.2L323.1 40.8L323.2 39.5L323.7 38.0L324.7 36.2L326.1 34.7L327.8 33.4L328.8 32.8L330.1 32.3L332.8 31.6L335.6 31.1L341.0 30.5L344.1 30.0L377.3 23.3L378.8 23.3L379.6 23.4L380.3 23.7L381.6 24.6L382.5 25.8L382.9 26.5L383.1 27.5L383.2 28.5L383.0 29.5L382.7 30.5L382.2 31.2L381.6 32.0L380.8 32.6L379.8 33.1L350.0 43.2L347.2 44.2L344.8 45.2L342.6 46.5L341.4 47.5L340.7 48.5L339.8 50.8L339.3 51.4L338.8 52.0L337.7 52.8ZM332.1 52.0L330.6 52.1L329.1 51.8L327.8 51.1L326.8 50.2L326.1 49.1L325.4 47.8L323.9 43.2L323.6 41.8L323.5 40.5L323.6 39.2L324.0 38.2L324.6 37.0L325.5 35.8L326.5 34.8L327.8 33.8L329.1 33.1L331.1 32.3L333.8 31.7L336.1 31.3L341.3 30.8L343.6 30.5L377.6 23.5L379.1 23.6L380.3 24.1L381.0 24.5L381.6 25.0L382.0 25.5L382.4 26.2L382.7 27.0L382.9 28.0L382.9 28.8L382.7 29.8L382.3 30.5L381.8 31.3L381.1 32.1L380.3 32.5L350.9 42.5L346.0 44.2L343.2 45.5L340.6 47.0L339.1 48.2L337.3 50.2L336.3 50.9L334.8 51.5ZM330.6 51.0L329.3 50.9L328.3 50.4L327.3 49.6L326.6 48.8L325.7 47.0L324.4 43.5L324.0 42.0L323.9 41.0L323.9 39.8L324.1 38.8L324.6 37.8L325.1 36.8L325.9 35.8L327.1 34.7L328.3 33.8L329.6 33.1L331.6 32.4L334.6 31.8L337.3 31.5L341.8 31.1L344.3 30.8L377.6 23.8L378.3 23.8L379.1 23.9L380.3 24.4L381.4 25.2L382.2 26.5L382.5 27.2L382.6 28.0L382.5 29.0L382.3 29.8L382.0 30.5L381.5 31.2L380.8 31.9L380.1 32.3L346.9 43.5L343.8 44.8L341.2 46.0L339.3 47.0L335.8 49.2L334.8 49.7L332.3 50.7L331.3 50.9ZM331.6 49.8L330.3 50.0L329.3 49.9L328.3 49.4L327.3 48.5L326.5 47.2L325.2 44.5L324.6 42.8L324.3 41.2L324.2 40.2L324.4 39.0L324.9 37.8L325.5 36.8L326.4 35.8L327.3 34.9L328.3 34.2L329.8 33.4L331.8 32.7L334.8 32.1L337.1 31.8L342.3 31.4L345.3 31.0L377.6 24.2L378.8 24.2L380.1 24.6L381.1 25.4L381.8 26.5L382.1 27.2L382.2 28.0L382.2 29.0L382.0 29.8L381.6 30.5L381.1 31.2L380.6 31.7L379.8 32.1L347.0 43.0L343.4 44.5L335.1 48.4Z" fill="none" stroke="#111" stroke-width="0.55" stroke-linejoin="round"/>
<path d="M332.1 46.5L330.8 46.6L329.8 46.4L329.1 46.1L328.3 45.6L327.5 44.8L326.7 43.5L326.2 42.2L325.9 41.0L325.9 40.0L326.1 39.0L326.4 38.2L327.0 37.2L327.6 36.5L328.6 35.6L329.6 35.0L330.8 34.3L333.6 33.5L336.8 33.1L339.8 33.0L345.1 33.4L347.6 33.2L377.8 26.5L378.5 26.5L379.1 26.7L379.6 27.2L379.8 27.6L379.9 28.2L379.8 29.0L379.5 29.5L378.8 30.0L349.6 39.4L347.3 40.3L342.8 42.9L339.8 44.3L337.6 45.1L334.8 45.9Z" fill="none" stroke="#777" stroke-width="0.40" stroke-linejoin="round"/>
<path d="M330.3 40.8L341.3 38.6M345.3 37.0L358.3 33.6M360.3 33.0L372.3 30.0M348.3 40.0L360.3 36.8M352.3 32.6L368.3 28.6M362.3 36.0L372.3 33.2" fill="none" stroke="#fff" stroke-opacity="0.85" stroke-width="0.8" stroke-linecap="round"/>
<text x="365.80" y="58.00" font-size="6.60" font-weight="bold" text-anchor="start">8.0%</text>
<rect x="421.40" y="2.00" width="95.50" height="94.50" fill="none" stroke="#111" stroke-width="0.90"/>
<line x1="418.20" y1="29.90" x2="421.40" y2="29.90" stroke="#111" stroke-width="0.80"/>
<text x="417.70" y="32.15" font-size="6.35" font-weight="bold" text-anchor="end">100</text>
<line x1="418.20" y1="54.50" x2="421.40" y2="54.50" stroke="#111" stroke-width="0.80"/>
<text x="417.70" y="56.75" font-size="6.35" font-weight="bold" text-anchor="end">10</text>
<line x1="418.20" y1="61.90" x2="421.40" y2="61.90" stroke="#111" stroke-width="0.80"/>
<text x="417.70" y="64.15" font-size="6.35" font-weight="bold" text-anchor="end">5</text>
<line x1="418.20" y1="72.10" x2="421.40" y2="72.10" stroke="#111" stroke-width="0.80"/>
<text x="417.70" y="74.35" font-size="6.35" font-weight="bold" text-anchor="end">2</text>
<line x1="418.20" y1="79.50" x2="421.40" y2="79.50" stroke="#111" stroke-width="0.80"/>
<text x="417.70" y="81.75" font-size="6.35" font-weight="bold" text-anchor="end">1</text>
<line x1="418.20" y1="96.50" x2="421.40" y2="96.50" stroke="#111" stroke-width="0.80"/>
<text x="417.70" y="98.75" font-size="6.35" font-weight="bold" text-anchor="end">0.1</text>
<line x1="419.20" y1="5.50" x2="421.40" y2="5.50" stroke="#111" stroke-width="0.80"/>
<line x1="421.40" y1="96.50" x2="421.40" y2="98.50" stroke="#111" stroke-width="0.80"/>
<text x="421.40" y="104.70" font-size="6.35" font-weight="bold" text-anchor="middle">0</text>
<line x1="444.40" y1="96.50" x2="444.40" y2="98.50" stroke="#111" stroke-width="0.80"/>
<text x="444.40" y="104.70" font-size="6.35" font-weight="bold" text-anchor="middle">200</text>
<line x1="467.40" y1="96.50" x2="467.40" y2="98.50" stroke="#111" stroke-width="0.80"/>
<text x="467.40" y="104.70" font-size="6.35" font-weight="bold" text-anchor="middle">400</text>
<line x1="490.40" y1="96.50" x2="490.40" y2="98.50" stroke="#111" stroke-width="0.80"/>
<text x="490.40" y="104.70" font-size="6.35" font-weight="bold" text-anchor="middle">600</text>
<line x1="514.60" y1="96.50" x2="514.60" y2="98.50" stroke="#111" stroke-width="0.80"/>
<text x="425.90" y="11.40" font-size="8.20" font-weight="bold" text-anchor="start">C2</text>
<rect x="431.70" y="44.40" width="41.20" height="18.80" fill="none" stroke="#222" stroke-width="0.70"/>
<path d="M448.4 55.5L446.6 55.5L445.1 55.1L443.6 54.5L442.1 53.6L441.1 52.5L438.9 49.8L435.1 46.6L433.7 45.2L432.9 44.2L432.3 43.2L431.5 41.5L431.0 39.8L431.0 38.0L431.2 36.2L431.7 34.8L432.6 33.0L435.2 29.8L436.4 27.5L437.1 26.8L437.8 26.2L439.1 25.6L440.6 25.2L442.4 24.9L444.4 24.8L447.1 24.9L451.1 25.3L453.6 25.9L455.6 26.2L459.6 26.4L467.6 26.5L476.1 26.4L484.9 26.2L490.4 25.9L491.4 26.0L492.4 26.4L493.2 27.0L493.7 27.8L494.1 28.5L494.3 29.2L494.3 30.0L494.2 30.8L493.9 31.5L493.5 32.2L493.0 32.8L492.4 33.2L487.3 35.5L479.5 39.2L472.1 43.0L464.6 47.0L462.9 48.0L461.4 49.0L460.4 49.8L457.9 52.2L456.6 53.0L454.6 53.8L451.6 54.9L449.9 55.3ZM449.1 54.0L447.6 54.1L446.1 53.9L444.6 53.4L443.4 52.7L442.6 52.0L440.3 49.8L436.4 46.9L434.8 45.5L433.3 43.8L432.5 42.5L432.1 41.5L431.7 39.8L431.6 38.0L431.8 36.2L432.5 34.5L433.2 33.2L434.1 32.0L436.2 29.8L437.9 27.6L439.0 26.8L440.1 26.2L441.6 25.8L443.1 25.6L444.9 25.6L446.6 25.7L448.6 26.0L451.4 26.6L454.4 27.6L457.1 27.9L463.4 28.0L473.1 28.0L482.6 27.7L490.4 27.4L491.1 27.5L491.6 27.7L492.1 28.1L492.5 28.5L492.8 29.5L492.7 30.5L492.4 31.2L491.6 31.9L484.9 35.0L477.2 38.8L469.3 42.8L462.7 46.2L461.4 47.0L460.4 47.8L459.6 48.5L457.6 51.0L456.1 52.0L455.1 52.4L453.6 52.9L450.9 53.7ZM449.9 52.5L448.4 52.7L446.9 52.6L445.6 52.3L444.4 51.7L441.4 49.5L437.6 47.2L435.9 45.9L435.0 45.0L434.1 44.0L433.3 42.8L432.8 41.8L432.3 40.0L432.1 38.0L432.4 36.2L433.0 34.5L434.0 33.0L435.1 31.6L438.6 28.3L439.9 27.3L440.9 26.9L442.1 26.5L443.6 26.4L445.1 26.4L446.9 26.6L448.4 26.9L451.6 27.8L454.9 29.0L456.1 29.3L457.4 29.4L463.4 29.6L483.1 29.6L486.1 29.8L487.3 30.0L487.7 30.2L487.8 30.5L487.8 30.8L487.4 31.2L486.4 32.0L484.7 33.0L466.0 42.8L460.6 45.7L459.1 46.9L458.5 47.8L457.1 49.9L455.9 50.9L454.9 51.4L453.9 51.7ZM448.4 51.3L446.9 51.1L445.1 50.6L440.1 48.1L437.9 46.8L436.4 45.7L434.9 44.2L433.8 42.8L433.1 41.2L432.7 39.5L432.6 37.8L433.0 36.0L433.6 34.5L434.5 33.0L435.7 31.8L437.9 29.8L439.9 28.3L441.1 27.7L442.6 27.2L444.1 27.1L445.9 27.1L447.6 27.5L449.9 28.1L452.1 28.8L455.6 30.3L457.6 30.9L459.9 31.1L469.1 31.4L473.6 31.6L476.4 32.1L477.1 32.3L477.7 32.8L477.7 33.2L477.2 34.0L476.4 34.8L474.9 35.8L470.8 38.2L461.6 43.3L459.4 44.8L458.1 46.0L457.5 46.8L456.4 48.8L455.8 49.5L455.1 50.0L454.1 50.4L453.1 50.7ZM450.1 49.8L448.1 50.0L446.4 49.8L444.4 49.3L441.9 48.4L439.4 47.2L437.4 45.9L435.7 44.5L434.5 43.0L433.7 41.5L433.2 39.8L433.1 38.2L433.3 36.5L433.8 35.0L434.7 33.5L435.9 32.1L437.4 30.8L439.9 29.1L440.9 28.6L441.9 28.2L442.9 27.9L443.9 27.8L446.1 27.8L448.6 28.4L451.6 29.3L456.9 31.9L458.4 32.5L459.9 32.8L464.4 33.3L466.6 33.6L468.1 34.1L468.6 34.4L469.0 34.8L469.1 35.0L469.1 35.5L468.9 36.0L468.2 36.8L466.4 38.2L461.1 41.7L459.1 43.2L457.3 45.0L455.1 47.9L454.4 48.7L453.9 49.0L453.1 49.3ZM449.1 48.8L447.1 49.0L444.9 48.7L442.6 48.1L439.9 46.9L438.1 45.9L436.4 44.5L435.1 43.0L434.1 41.2L433.7 39.5L433.6 37.8L434.0 36.0L434.8 34.2L435.9 32.8L437.4 31.4L439.4 30.1L441.4 29.1L443.4 28.5L444.4 28.4L445.6 28.4L446.9 28.6L448.4 28.9L451.4 29.9L453.4 30.8L456.0 32.5L460.2 35.8L460.7 36.2L461.0 36.8L461.1 37.2L461.0 37.8L460.8 38.5L460.3 39.2L458.6 41.8L455.9 45.0L454.1 46.7L452.9 47.6L451.4 48.2Z" fill="none" stroke="#111" stroke-width="0.55" stroke-linejoin="round"/>
<path d="M447.6 44.5L446.4 44.7L445.1 44.7L443.9 44.5L442.6 44.1L441.4 43.6L440.4 42.9L439.4 42.0L438.8 41.2L438.2 40.2L438.0 39.2L437.9 38.2L438.0 37.2L438.4 36.2L438.9 35.4L439.7 34.5L440.6 33.8L442.1 33.0L443.6 32.6L445.4 32.4L447.1 32.6L448.9 33.0L450.4 33.7L451.6 34.6L452.6 35.8L453.3 37.0L453.5 38.2L453.5 39.0L453.3 39.8L452.8 41.0L451.8 42.2L450.6 43.2L449.1 44.1Z" fill="none" stroke="#666" stroke-width="0.40" stroke-linejoin="round"/>
<path d="M440.4 37.2L450.4 36.6M441.4 39.8L451.4 38.8" fill="none" stroke="#fff" stroke-opacity="0.85" stroke-width="0.8" stroke-linecap="round"/>
<text x="479.90" y="58.00" font-size="6.60" font-weight="bold" text-anchor="start">7.0%</text>
<rect x="194.40" y="114.30" width="95.50" height="94.50" fill="none" stroke="#111" stroke-width="0.90"/>
<line x1="191.20" y1="142.20" x2="194.40" y2="142.20" stroke="#111" stroke-width="0.80"/>
<text x="190.70" y="144.45" font-size="6.35" font-weight="bold" text-anchor="end">100</text>
<line x1="191.20" y1="166.80" x2="194.40" y2="166.80" stroke="#111" stroke-width="0.80"/>
<text x="190.70" y="169.05" font-size="6.35" font-weight="bold" text-anchor="end">10</text>
<line x1="191.20" y1="174.20" x2="194.40" y2="174.20" stroke="#111" stroke-width="0.80"/>
<text x="190.70" y="176.45" font-size="6.35" font-weight="bold" text-anchor="end">5</text>
<line x1="191.20" y1="184.40" x2="194.40" y2="184.40" stroke="#111" stroke-width="0.80"/>
<text x="190.70" y="186.65" font-size="6.35" font-weight="bold" text-anchor="end">2</text>
<line x1="191.20" y1="191.80" x2="194.40" y2="191.80" stroke="#111" stroke-width="0.80"/>
<text x="190.70" y="194.05" font-size="6.35" font-weight="bold" text-anchor="end">1</text>
<line x1="191.20" y1="208.80" x2="194.40" y2="208.80" stroke="#111" stroke-width="0.80"/>
<text x="190.70" y="211.05" font-size="6.35" font-weight="bold" text-anchor="end">0.1</text>
<line x1="192.20" y1="117.80" x2="194.40" y2="117.80" stroke="#111" stroke-width="0.80"/>
<line x1="194.40" y1="208.80" x2="194.40" y2="210.80" stroke="#111" stroke-width="0.80"/>
<text x="194.40" y="217.00" font-size="6.35" font-weight="bold" text-anchor="middle">0</text>
<line x1="217.40" y1="208.80" x2="217.40" y2="210.80" stroke="#111" stroke-width="0.80"/>
<text x="217.40" y="217.00" font-size="6.35" font-weight="bold" text-anchor="middle">200</text>
<line x1="240.40" y1="208.80" x2="240.40" y2="210.80" stroke="#111" stroke-width="0.80"/>
<text x="240.40" y="217.00" font-size="6.35" font-weight="bold" text-anchor="middle">400</text>
<line x1="263.40" y1="208.80" x2="263.40" y2="210.80" stroke="#111" stroke-width="0.80"/>
<text x="263.40" y="217.00" font-size="6.35" font-weight="bold" text-anchor="middle">600</text>
<line x1="287.60" y1="208.80" x2="287.60" y2="210.80" stroke="#111" stroke-width="0.80"/>
<text x="198.90" y="123.70" font-size="8.20" font-weight="bold" text-anchor="start">C3</text>
<rect x="205.20" y="155.50" width="41.00" height="19.60" fill="none" stroke="#222" stroke-width="0.70"/>
<path d="M222.2 168.3L220.7 168.2L219.2 167.9L217.7 167.3L216.5 166.6L214.2 164.3L211.9 162.4L210.5 161.1L209.0 159.1L208.0 157.3L207.2 155.3L206.7 153.1L206.5 150.6L206.7 148.1L207.0 146.3L207.8 144.3L208.8 142.8L210.0 141.6L211.7 140.4L213.2 139.7L214.7 139.1L216.4 138.8L218.9 138.8L222.4 139.1L226.9 139.3L229.7 139.6L232.7 140.1L235.4 140.7L238.2 141.5L240.7 142.4L242.7 143.2L244.5 144.3L246.2 145.5L247.3 146.6L248.0 147.6L248.5 148.6L248.8 149.6L248.9 150.3L248.7 151.3L248.4 152.1L247.7 153.1L247.0 153.8L246.0 154.6L244.7 155.3L243.2 155.8L241.4 156.3L239.7 156.7L237.9 156.9L232.4 157.2L231.4 157.4L230.7 157.7L230.3 158.1L230.0 158.8L230.1 161.6L229.8 163.1L229.4 164.3L228.8 165.3L227.5 166.6L225.9 167.5L224.2 168.1ZM223.7 166.3L222.7 166.5L221.7 166.5L219.9 166.2L218.9 165.8L216.8 164.6L213.4 162.7L211.7 161.4L210.1 159.8L208.8 157.8L208.0 156.1L207.4 153.8L207.3 152.6L207.2 151.3L207.3 150.1L207.5 148.8L208.0 146.8L209.0 144.8L210.3 143.1L211.9 141.7L212.9 141.1L213.9 140.6L215.4 140.2L216.9 140.0L218.4 140.0L220.2 140.4L221.7 140.9L222.7 141.5L224.2 142.5L226.2 144.1L226.9 144.4L227.7 144.4L230.4 143.9L232.9 143.7L235.7 143.9L238.2 144.4L240.4 145.2L242.2 146.2L243.5 147.3L244.1 148.1L244.4 148.8L244.7 149.8L244.6 150.6L244.4 151.3L243.9 152.1L243.2 152.8L242.4 153.3L241.4 153.8L240.2 154.2L237.7 154.7L234.9 154.7L231.9 154.3L228.9 153.4L228.4 153.4L228.2 153.5L227.9 153.8L227.4 154.8L226.4 157.8L226.1 159.1L226.1 160.1L226.8 161.6L227.0 162.3L227.0 163.1L226.8 163.8L226.4 164.6L225.7 165.3L224.7 166.0ZM221.9 163.9L221.2 164.0L220.2 164.0L217.7 163.7L215.7 163.2L213.9 162.4L212.4 161.4L211.1 160.3L210.0 159.1L209.0 157.3L208.3 155.6L207.8 153.6L207.7 151.6L207.8 149.6L208.3 147.6L209.2 145.6L210.2 144.1L211.7 142.6L213.2 141.6L214.2 141.2L215.2 140.9L216.9 140.6L218.9 140.7L219.9 141.0L221.2 141.5L222.4 142.2L223.4 143.0L224.3 143.8L225.1 144.8L227.2 147.8L227.7 148.4L227.9 148.5L229.1 147.1L230.4 146.2L232.2 145.6L234.2 145.4L236.4 145.6L238.7 146.1L240.4 147.0L241.6 148.1L242.0 148.8L242.3 149.8L242.2 150.6L241.8 151.3L241.0 152.1L240.2 152.5L239.2 152.9L237.9 153.2L236.7 153.4L235.4 153.3L233.9 153.2L232.7 152.9L231.7 152.5L230.7 152.0L229.6 151.3L228.4 150.2L228.2 150.0L227.9 150.1L227.7 150.6L226.5 155.3L225.5 158.1L223.3 162.8L222.7 163.5ZM219.9 162.9L218.9 163.0L217.9 163.0L215.9 162.7L213.9 161.9L212.4 161.0L210.9 159.6L209.8 158.1L208.8 156.1L208.3 154.1L208.0 151.8L208.2 149.6L208.8 147.6L209.6 145.8L210.8 144.1L212.4 142.6L214.2 141.7L215.9 141.2L217.7 141.1L219.4 141.4L220.9 141.9L222.4 142.8L223.8 144.1L225.1 145.8L226.0 147.6L226.6 149.3L226.7 151.1L226.5 153.3L226.0 155.6L225.1 157.8L223.9 159.8L222.7 161.3L221.4 162.3ZM236.9 152.1L235.7 152.1L234.4 152.0L233.2 151.6L232.1 151.1L231.4 150.5L230.9 149.8L230.8 149.1L231.0 148.3L231.4 147.8L232.2 147.3L233.2 147.0L234.4 146.8L235.7 146.8L236.9 147.0L237.9 147.3L238.9 147.8L239.5 148.3L240.0 149.1L240.1 149.8L240.0 150.3L239.7 150.9L238.9 151.5L237.9 151.9ZM219.4 162.3L217.7 162.5L216.7 162.4L215.7 162.2L213.9 161.5L212.4 160.5L210.9 159.1L209.9 157.6L209.1 155.8L208.5 153.8L208.4 151.6L208.6 149.6L209.0 147.8L210.0 145.8L211.2 144.3L212.7 143.0L214.2 142.1L215.9 141.6L217.4 141.5L219.2 141.7L220.9 142.4L222.4 143.3L223.6 144.6L224.7 146.1L225.6 147.8L226.1 149.6L226.3 151.6L226.1 153.6L225.6 155.6L224.7 157.6L223.7 159.3L222.4 160.7L221.2 161.7L220.2 162.1ZM236.7 150.3L235.7 150.5L234.7 150.3L234.0 149.8L233.8 149.3L233.9 149.1L234.4 148.6L235.2 148.5L235.9 148.5L236.7 148.7L237.1 149.1L237.3 149.6L237.1 150.1ZM219.2 161.8L217.4 162.0L215.7 161.7L214.2 161.2L212.7 160.2L211.2 158.8L210.1 157.3L209.4 155.6L208.9 153.6L208.7 151.6L208.9 149.6L209.5 147.6L210.3 146.1L211.4 144.6L212.9 143.3L214.4 142.5L216.2 142.0L217.9 141.9L219.4 142.2L220.9 142.9L222.4 143.9L223.5 145.1L224.5 146.6L225.3 148.3L225.7 150.1L225.8 152.1L225.6 154.1L225.1 155.8L224.3 157.6L223.2 159.3L221.9 160.5L220.4 161.4Z" fill="none" stroke="#111" stroke-width="0.55" stroke-linejoin="round"/>
<path d="M218.4 158.3L217.4 158.5L216.2 158.3L215.2 158.0L214.1 157.3L213.2 156.4L212.4 155.3L211.9 154.1L211.7 152.8L211.6 151.3L211.8 150.1L212.2 149.0L212.8 147.8L213.6 146.8L214.6 146.1L215.7 145.5L216.7 145.3L217.7 145.3L218.8 145.6L219.9 146.1L220.7 146.6L221.5 147.6L222.1 148.6L222.5 149.6L222.8 150.8L222.9 152.1L222.7 153.3L222.4 154.5L221.9 155.6L221.2 156.6L220.4 157.3L219.4 158.0Z" fill="none" stroke="#666" stroke-width="0.40" stroke-linejoin="round"/>
<path d="M213.9 153.5L220.9 150.1M213.4 155.9L217.4 154.3" fill="none" stroke="#fff" stroke-opacity="0.85" stroke-width="0.8" stroke-linecap="round"/>
<text x="248.90" y="166.60" font-size="6.60" font-weight="bold" text-anchor="start">11.0%</text>
<rect x="307.70" y="114.30" width="95.50" height="94.50" fill="none" stroke="#111" stroke-width="0.90"/>
<line x1="304.50" y1="142.20" x2="307.70" y2="142.20" stroke="#111" stroke-width="0.80"/>
<text x="304.00" y="144.45" font-size="6.35" font-weight="bold" text-anchor="end">100</text>
<line x1="304.50" y1="166.80" x2="307.70" y2="166.80" stroke="#111" stroke-width="0.80"/>
<text x="304.00" y="169.05" font-size="6.35" font-weight="bold" text-anchor="end">10</text>
<line x1="304.50" y1="174.20" x2="307.70" y2="174.20" stroke="#111" stroke-width="0.80"/>
<text x="304.00" y="176.45" font-size="6.35" font-weight="bold" text-anchor="end">5</text>
<line x1="304.50" y1="184.40" x2="307.70" y2="184.40" stroke="#111" stroke-width="0.80"/>
<text x="304.00" y="186.65" font-size="6.35" font-weight="bold" text-anchor="end">2</text>
<line x1="304.50" y1="191.80" x2="307.70" y2="191.80" stroke="#111" stroke-width="0.80"/>
<text x="304.00" y="194.05" font-size="6.35" font-weight="bold" text-anchor="end">1</text>
<line x1="304.50" y1="208.80" x2="307.70" y2="208.80" stroke="#111" stroke-width="0.80"/>
<text x="304.00" y="211.05" font-size="6.35" font-weight="bold" text-anchor="end">0.1</text>
<line x1="305.50" y1="117.80" x2="307.70" y2="117.80" stroke="#111" stroke-width="0.80"/>
<line x1="307.70" y1="208.80" x2="307.70" y2="210.80" stroke="#111" stroke-width="0.80"/>
<text x="307.70" y="217.00" font-size="6.35" font-weight="bold" text-anchor="middle">0</text>
<line x1="330.70" y1="208.80" x2="330.70" y2="210.80" stroke="#111" stroke-width="0.80"/>
<text x="330.70" y="217.00" font-size="6.35" font-weight="bold" text-anchor="middle">200</text>
<line x1="353.70" y1="208.80" x2="353.70" y2="210.80" stroke="#111" stroke-width="0.80"/>
<text x="353.70" y="217.00" font-size="6.35" font-weight="bold" text-anchor="middle">400</text>
<line x1="376.70" y1="208.80" x2="376.70" y2="210.80" stroke="#111" stroke-width="0.80"/>
<text x="376.70" y="217.00" font-size="6.35" font-weight="bold" text-anchor="middle">600</text>
<line x1="400.90" y1="208.80" x2="400.90" y2="210.80" stroke="#111" stroke-width="0.80"/>
<text x="312.20" y="123.70" font-size="8.20" font-weight="bold" text-anchor="start">C4</text>
<rect x="318.50" y="155.50" width="41.00" height="19.60" fill="none" stroke="#222" stroke-width="0.70"/>
<path d="M331.7 170.8L330.4 171.0L329.2 171.0L327.9 170.8L326.9 170.5L325.9 170.0L324.9 169.3L323.9 168.3L323.1 167.3L322.4 166.1L321.8 164.8L321.3 163.3L320.8 161.6L320.3 158.3L319.9 153.5L319.6 152.8L318.1 150.8L317.5 149.6L317.4 148.8L317.4 148.1L317.6 147.1L317.9 146.3L318.3 145.6L318.9 144.8L321.2 142.6L321.4 142.1L321.4 140.8L321.6 140.1L322.2 139.1L322.9 138.3L323.9 137.6L325.2 137.0L326.7 136.5L328.4 136.2L330.2 136.0L331.9 136.1L333.7 136.2L335.4 136.5L338.2 137.3L343.8 139.6L351.7 141.9L353.9 142.7L355.4 143.4L356.9 144.3L358.2 145.3L359.4 146.6L360.2 147.6L361.0 148.8L361.5 150.1L361.9 151.3L362.1 152.8L362.1 154.1L361.9 155.3L361.5 156.6L360.6 158.3L359.3 160.1L357.7 161.5L354.2 164.1L353.5 164.8L352.3 166.6L351.5 167.3L350.2 168.2L348.7 169.0L346.7 169.6L344.4 170.1L342.4 170.4L340.2 170.5L334.4 170.4ZM330.9 170.1L329.7 170.2L328.7 170.1L327.7 169.8L326.7 169.4L325.7 168.8L324.9 168.2L324.1 167.3L323.4 166.3L322.8 165.1L322.3 163.8L321.8 162.3L321.4 160.3L321.1 157.6L321.4 154.1L321.3 153.6L320.9 153.1L319.7 151.8L318.8 150.8L318.3 149.8L318.1 149.1L318.0 148.1L318.2 147.3L318.6 146.3L319.0 145.6L319.9 144.6L321.2 143.6L324.9 141.6L325.1 141.3L325.2 141.1L325.2 140.3L325.4 139.8L326.0 139.1L327.3 138.3L329.2 137.8L331.4 137.7L333.4 138.1L334.4 138.4L335.4 138.8L336.5 139.6L338.1 141.1L339.1 141.6L339.9 141.8L340.9 142.1L344.1 142.6L350.7 143.3L352.2 143.7L353.7 144.2L355.2 144.9L356.4 145.6L357.6 146.6L358.5 147.6L359.5 149.1L360.3 150.8L360.5 152.3L360.5 154.1L360.1 155.8L359.6 157.1L358.6 158.6L357.2 159.9L355.7 161.0L354.2 161.7L352.4 162.4L349.5 163.3L349.0 163.6L348.5 164.1L348.4 165.6L348.2 166.1L347.9 166.6L347.5 167.1L346.8 167.6L345.4 168.2L343.7 168.8L341.9 169.1L339.4 169.3L335.2 169.2L334.2 169.3ZM330.7 169.3L329.4 169.4L328.2 169.2L327.2 168.9L326.2 168.3L325.2 167.5L324.4 166.6L323.6 165.3L323.0 164.1L322.3 161.8L321.9 159.3L321.8 157.1L322.1 154.3L322.1 153.8L321.5 153.1L320.2 151.8L319.3 150.8L318.7 149.8L318.5 148.8L318.5 147.6L318.9 146.6L319.5 145.6L320.7 144.4L321.7 143.7L323.2 142.9L324.9 142.2L326.4 141.7L329.7 140.9L330.9 140.9L332.2 140.9L335.2 141.4L337.2 141.9L342.9 143.8L344.4 144.0L349.7 144.2L351.2 144.4L352.4 144.7L354.2 145.4L355.7 146.2L356.9 147.2L357.9 148.3L358.8 149.8L359.3 151.1L359.5 152.6L359.5 154.1L359.1 155.6L358.4 157.1L357.5 158.3L356.2 159.5L354.7 160.4L352.7 161.2L350.4 161.6L348.4 161.7L346.7 161.4L345.2 160.9L341.4 159.1L339.9 158.5L338.9 158.3L338.2 158.4L337.9 158.6L337.6 159.1L337.2 160.3L337.0 162.1L337.1 162.8L337.3 163.3L337.7 163.7L338.2 163.9L341.2 164.2L342.7 164.8L343.2 165.1L343.6 165.6L343.6 166.1L343.5 166.3L343.2 166.6L342.7 167.0L341.4 167.4L339.7 167.7L335.9 167.7L334.7 168.0L332.2 169.0ZM330.7 168.6L329.4 168.7L328.4 168.6L327.4 168.2L326.4 167.7L325.7 167.1L324.8 166.1L324.1 165.1L323.4 163.6L322.8 161.6L322.4 159.1L322.4 157.1L322.7 154.1L322.3 153.3L320.4 151.7L319.7 150.8L319.1 149.8L318.8 148.8L318.9 147.6L319.2 146.6L320.1 145.3L321.2 144.4L322.2 143.7L323.7 142.9L324.9 142.5L326.7 141.9L328.2 141.6L329.9 141.4L331.7 141.4L333.2 141.5L335.9 141.9L337.9 142.5L339.9 143.2L342.9 144.6L343.7 144.8L344.9 145.0L349.4 145.0L350.9 145.2L352.4 145.5L353.9 146.1L355.2 146.8L356.4 147.8L357.3 148.8L358.1 150.1L358.5 151.3L358.7 152.8L358.7 154.1L358.2 155.6L357.6 156.8L356.7 158.0L355.7 158.8L354.2 159.8L352.4 160.4L350.4 160.8L348.4 160.7L346.9 160.4L345.4 159.9L341.4 157.8L339.9 157.2L338.7 156.8L338.2 156.7L337.7 156.8L337.1 157.3L336.7 158.3L336.2 161.1L335.8 164.8L335.4 165.8L334.8 166.6L333.4 167.6L331.9 168.2ZM330.9 167.8L329.9 168.0L328.9 168.0L327.9 167.7L326.9 167.3L326.0 166.6L325.2 165.7L324.5 164.6L323.9 163.3L323.2 161.3L322.9 159.1L322.9 157.1L323.2 154.6L323.2 154.1L322.7 153.3L320.9 151.8L320.0 150.8L319.4 149.8L319.1 148.8L319.1 147.8L319.6 146.6L320.2 145.6L321.4 144.5L322.7 143.7L324.2 143.0L325.7 142.4L327.7 142.0L329.4 141.7L330.9 141.6L332.7 141.7L334.4 141.9L336.9 142.4L339.2 143.2L340.9 144.0L343.4 145.4L344.2 145.6L345.2 145.7L347.9 145.6L349.7 145.7L351.2 145.9L352.4 146.2L353.7 146.7L354.9 147.5L355.9 148.3L356.8 149.3L357.5 150.6L357.9 151.8L358.0 153.1L357.9 154.3L357.6 155.3L356.9 156.6L356.1 157.6L354.9 158.5L353.4 159.4L351.7 159.9L349.9 160.1L348.2 160.0L346.9 159.7L345.4 159.1L341.4 156.8L339.9 156.1L338.2 155.5L337.7 155.5L337.2 155.6L336.7 155.9L336.3 156.8L335.3 162.6L334.9 164.1L334.5 165.1L333.9 166.1L333.1 166.8L331.9 167.5ZM330.7 167.1L329.7 167.2L328.7 167.1L327.7 166.8L326.9 166.4L326.2 165.8L325.4 164.9L324.9 164.1L324.3 162.8L323.7 160.8L323.4 158.8L323.4 156.8L323.8 154.6L323.7 154.1L323.1 153.3L321.2 151.7L320.4 150.8L319.8 149.8L319.5 148.8L319.5 147.6L319.9 146.6L320.7 145.4L321.9 144.4L323.2 143.6L324.4 143.1L325.7 142.7L327.7 142.2L329.4 141.9L331.2 141.9L332.9 141.9L334.7 142.1L337.2 142.7L339.2 143.4L340.7 144.1L343.4 145.9L344.4 146.4L345.2 146.5L347.9 146.4L349.7 146.4L351.2 146.6L352.4 147.0L353.7 147.5L354.7 148.2L355.4 148.9L356.2 149.8L356.9 151.1L357.2 152.6L357.1 154.1L356.7 155.3L356.0 156.6L354.9 157.6L353.7 158.4L351.9 159.1L350.7 159.3L349.4 159.4L348.2 159.2L346.9 158.9L344.9 158.0L341.2 155.7L338.9 154.7L338.2 154.6L337.4 154.6L336.5 154.8L336.0 155.1L335.8 155.3L335.6 155.8L335.0 160.6L334.6 162.6L334.1 164.1L333.4 165.2L332.7 166.0L331.7 166.7Z" fill="none" stroke="#111" stroke-width="0.55" stroke-linejoin="round"/>
<ellipse cx="350.9" cy="152.9" rx="1.7" ry="1.3" transform="rotate(0 350.9 152.9)" fill="#fff" stroke="#888" stroke-width="0.3"/>
<path d="M326.2 147.3L336.7 147.3M326.2 149.7L335.7 149.7M326.7 145.1L334.7 145.1" fill="none" stroke="#fff" stroke-opacity="0.85" stroke-width="0.8" stroke-linecap="round"/>
<text x="363.70" y="166.60" font-size="6.60" font-weight="bold" text-anchor="start">16.8%</text>
<rect x="420.80" y="114.30" width="95.50" height="94.50" fill="none" stroke="#111" stroke-width="0.90"/>
<line x1="417.60" y1="142.20" x2="420.80" y2="142.20" stroke="#111" stroke-width="0.80"/>
<text x="417.10" y="144.45" font-size="6.35" font-weight="bold" text-anchor="end">100</text>
<line x1="417.60" y1="166.80" x2="420.80" y2="166.80" stroke="#111" stroke-width="0.80"/>
<text x="417.10" y="169.05" font-size="6.35" font-weight="bold" text-anchor="end">10</text>
<line x1="417.60" y1="174.20" x2="420.80" y2="174.20" stroke="#111" stroke-width="0.80"/>
<text x="417.10" y="176.45" font-size="6.35" font-weight="bold" text-anchor="end">5</text>
<line x1="417.60" y1="184.40" x2="420.80" y2="184.40" stroke="#111" stroke-width="0.80"/>
<text x="417.10" y="186.65" font-size="6.35" font-weight="bold" text-anchor="end">2</text>
<line x1="417.60" y1="191.80" x2="420.80" y2="191.80" stroke="#111" stroke-width="0.80"/>
<text x="417.10" y="194.05" font-size="6.35" font-weight="bold" text-anchor="end">1</text>
<line x1="417.60" y1="208.80" x2="420.80" y2="208.80" stroke="#111" stroke-width="0.80"/>
<text x="417.10" y="211.05" font-size="6.35" font-weight="bold" text-anchor="end">0.1</text>
<line x1="418.60" y1="117.80" x2="420.80" y2="117.80" stroke="#111" stroke-width="0.80"/>
<line x1="420.80" y1="208.80" x2="420.80" y2="210.80" stroke="#111" stroke-width="0.80"/>
<text x="420.80" y="217.00" font-size="6.35" font-weight="bold" text-anchor="middle">0</text>
<line x1="443.80" y1="208.80" x2="443.80" y2="210.80" stroke="#111" stroke-width="0.80"/>
<text x="443.80" y="217.00" font-size="6.35" font-weight="bold" text-anchor="middle">200</text>
<line x1="466.80" y1="208.80" x2="466.80" y2="210.80" stroke="#111" stroke-width="0.80"/>
<text x="466.80" y="217.00" font-size="6.35" font-weight="bold" text-anchor="middle">400</text>
<line x1="489.80" y1="208.80" x2="489.80" y2="210.80" stroke="#111" stroke-width="0.80"/>
<text x="489.80" y="217.00" font-size="6.35" font-weight="bold" text-anchor="middle">600</text>
<line x1="514.00" y1="208.80" x2="514.00" y2="210.80" stroke="#111" stroke-width="0.80"/>
<text x="425.30" y="123.70" font-size="8.20" font-weight="bold" text-anchor="start">C5</text>
<rect x="431.60" y="155.50" width="41.00" height="19.60" fill="none" stroke="#222" stroke-width="0.70"/>
<path d="M443.5 173.3L442.3 173.4L441.0 173.4L439.8 173.2L438.8 172.9L437.8 172.4L436.5 171.6L435.6 170.8L435.0 170.1L434.0 168.6L433.3 167.1L433.0 165.6L432.5 162.7L432.3 161.9L430.6 159.3L429.9 158.1L429.2 156.3L428.8 154.8L428.5 153.1L428.6 151.3L428.9 149.6L429.4 148.1L430.3 146.3L432.5 142.8L434.4 139.3L435.3 138.1L436.0 137.2L437.0 136.5L438.3 136.0L439.3 135.8L440.5 135.9L442.3 136.5L445.0 137.9L446.3 138.4L447.5 138.7L453.0 139.3L455.0 139.8L457.0 140.3L459.8 141.3L462.5 142.7L466.1 144.8L469.8 146.6L471.0 147.5L472.2 148.6L472.8 149.3L473.2 150.1L473.5 150.8L473.6 151.8L473.5 153.1L473.1 155.3L473.1 157.8L472.9 159.3L472.3 161.3L471.4 163.1L470.3 164.6L468.8 166.1L467.8 166.9L466.5 167.7L464.0 168.9L462.0 169.6L458.5 170.6L455.3 171.7L453.8 172.0ZM443.5 172.8L441.8 173.0L440.3 172.8L438.8 172.4L437.0 171.4L435.8 170.3L434.8 169.1L434.2 167.8L433.6 166.1L433.5 164.6L433.6 162.8L433.9 161.3L434.5 159.3L434.6 158.6L434.4 157.8L433.7 156.1L433.3 154.6L433.1 153.1L433.2 151.6L433.6 149.8L435.1 145.8L435.6 142.3L435.9 141.1L436.5 139.8L437.3 138.8L438.0 138.3L438.8 138.0L439.5 137.9L440.5 138.0L441.8 138.6L444.5 141.1L445.8 141.7L447.0 142.0L450.8 142.3L453.3 142.7L456.3 143.5L460.2 145.1L461.5 145.3L464.5 145.7L466.8 146.2L468.3 146.7L469.3 147.2L470.5 148.0L471.5 148.8L472.2 149.8L472.6 151.1L472.6 152.1L472.3 153.3L471.9 154.1L471.3 154.8L468.8 157.3L468.5 157.8L467.9 159.8L467.3 161.1L466.3 162.5L465.0 163.7L463.6 164.8L461.0 166.3L458.0 169.1L457.0 169.9L455.5 170.7L454.3 171.1L453.3 171.3ZM442.8 172.6L441.3 172.6L439.8 172.4L438.5 171.9L437.0 171.0L435.8 169.8L435.0 168.6L434.4 167.3L434.0 165.6L433.9 164.3L434.0 163.3L434.2 162.3L434.7 161.1L435.7 159.3L437.8 156.8L438.1 156.1L438.0 155.6L436.7 153.6L436.1 152.3L435.8 151.1L435.8 149.8L436.1 148.3L436.7 147.1L437.4 146.1L438.7 144.3L439.0 143.8L439.1 143.3L439.1 142.3L439.3 141.8L439.5 141.6L440.0 141.7L440.3 141.9L440.9 142.8L441.4 143.1L442.5 143.2L445.3 143.5L447.5 143.9L449.0 144.4L452.3 145.9L455.5 146.8L456.8 146.8L460.3 146.2L462.0 146.1L464.0 146.1L466.0 146.4L467.8 146.9L469.3 147.7L470.3 148.4L471.2 149.3L471.9 150.6L472.1 151.6L471.9 152.6L471.3 153.8L470.3 154.9L468.8 155.9L467.3 156.6L464.1 157.8L463.4 158.3L461.3 161.4L460.2 164.8L459.5 166.3L458.5 167.8L457.2 169.1L455.5 170.1L454.0 170.7ZM442.0 172.3L440.5 172.2L439.3 171.9L438.0 171.3L436.8 170.4L435.8 169.3L435.2 168.3L434.7 167.1L434.3 165.6L434.3 164.1L434.6 162.6L435.2 161.1L435.8 160.1L436.5 159.1L437.5 158.2L438.8 157.4L440.6 156.6L440.8 156.3L440.7 156.1L440.5 155.8L438.8 154.6L437.7 153.6L436.9 152.3L436.5 151.1L436.5 149.6L436.9 148.1L437.6 146.8L438.8 145.5L439.5 145.0L440.5 144.5L441.5 144.2L442.5 144.0L444.8 144.0L446.3 144.2L447.3 144.4L449.0 145.1L450.7 146.3L451.8 147.6L453.0 149.6L453.3 149.9L453.5 150.0L454.0 149.8L456.3 148.2L457.8 147.4L459.3 146.9L460.3 146.7L462.5 146.5L465.0 146.6L467.3 147.1L468.5 147.6L469.3 148.1L470.0 148.6L470.7 149.3L471.2 150.1L471.5 150.8L471.6 151.6L471.5 152.3L471.2 153.1L470.7 153.8L470.0 154.5L469.3 155.1L468.3 155.7L467.3 156.1L465.0 156.7L463.0 156.9L459.5 156.9L459.0 156.9L458.8 157.1L458.8 157.6L459.4 159.3L459.8 160.8L459.9 162.3L459.8 163.8L459.4 165.1L458.8 166.6L457.9 167.8L456.8 168.9L455.3 169.8L453.5 170.5L443.0 172.2ZM443.5 171.8L441.8 172.0L440.3 171.8L438.8 171.3L437.3 170.4L436.2 169.3L435.3 167.8L434.7 166.1L434.6 164.6L434.7 163.3L435.2 161.8L435.9 160.6L436.8 159.4L437.8 158.6L438.8 158.0L440.0 157.4L442.3 156.8L442.8 156.6L443.0 156.3L442.6 156.1L440.5 155.2L439.5 154.6L438.5 153.8L437.7 152.8L437.1 151.6L436.9 150.3L437.0 149.1L437.4 147.8L437.9 147.1L438.5 146.3L439.3 145.7L440.0 145.2L441.0 144.8L442.0 144.5L443.0 144.3L444.3 144.3L446.0 144.5L447.8 145.0L448.8 145.5L449.5 146.0L450.7 147.1L451.4 148.1L451.7 148.8L452.0 149.8L452.0 150.8L451.9 151.6L451.6 152.3L450.4 154.3L450.4 154.6L450.8 154.8L452.8 154.9L454.0 155.2L455.5 155.8L456.8 156.8L457.9 158.1L458.7 159.6L459.2 161.1L459.4 162.8L459.1 164.6L458.7 165.8L458.3 166.6L457.2 168.1L456.5 168.6L455.5 169.3L454.3 169.9L453.3 170.2ZM465.0 156.3L463.0 156.5L460.8 156.3L458.8 155.9L457.8 155.5L456.8 155.0L456.0 154.4L455.5 153.8L455.2 153.3L454.9 152.6L454.8 152.1L454.8 151.3L455.0 150.8L455.3 150.1L456.3 148.9L457.8 147.9L459.5 147.2L461.3 146.9L463.3 146.7L465.5 146.9L467.3 147.4L469.0 148.3L470.3 149.3L470.9 150.3L471.1 151.1L471.2 151.6L471.1 152.1L470.9 152.8L470.5 153.6L470.0 154.0L468.8 155.0L468.0 155.4L466.8 155.9ZM446.5 155.6L445.5 155.7L444.0 155.7L442.5 155.5L441.5 155.2L440.5 154.7L439.5 154.1L438.8 153.5L438.2 152.8L437.7 152.1L437.4 151.1L437.2 150.1L437.4 149.1L437.7 148.1L438.2 147.3L438.8 146.6L439.5 145.9L440.8 145.2L442.3 144.8L443.8 144.6L445.3 144.6L446.8 145.0L448.0 145.5L449.3 146.2L450.4 147.3L451.0 148.3L451.4 149.6L451.4 150.8L451.0 152.1L450.4 153.1L449.3 154.2L447.8 155.1ZM464.3 156.1L462.3 156.1L460.0 155.7L458.5 155.2L457.1 154.3L456.1 153.3L455.9 152.8L455.6 152.1L455.6 151.3L455.7 150.8L456.0 150.3L456.5 149.6L457.5 148.6L458.8 147.9L460.5 147.3L462.5 147.0L464.5 147.1L466.3 147.4L467.8 147.9L469.3 148.9L470.2 149.8L470.5 150.3L470.7 151.1L470.7 151.8L470.6 152.3L470.2 153.3L469.2 154.3L467.8 155.2L466.3 155.7ZM443.3 171.6L442.3 171.7L441.0 171.7L440.0 171.5L439.0 171.1L438.0 170.6L437.1 169.8L436.4 169.1L435.8 168.1L435.3 167.1L435.1 166.1L434.9 165.1L435.0 163.8L435.2 162.8L435.7 161.6L436.3 160.6L437.0 159.8L438.3 158.7L439.3 158.2L440.0 157.9L446.3 156.4L450.8 155.6L452.5 155.6L454.0 155.9L455.5 156.7L456.8 157.6L457.7 158.8L458.4 160.1L458.8 161.6L459.0 162.8L458.8 164.1L458.4 165.6L457.7 166.8L456.9 167.8L455.5 168.9L454.5 169.4L453.8 169.7Z" fill="none" stroke="#111" stroke-width="0.55" stroke-linejoin="round"/>
<path d="M444.8 154.1L443.0 154.0L442.0 153.7L441.3 153.4L440.5 152.9L439.9 152.3L439.5 151.8L439.2 151.1L439.0 150.3L439.1 149.6L439.3 148.8L439.5 148.3L440.0 147.6L440.5 147.2L441.3 146.7L442.0 146.3L443.0 146.1L444.3 146.0L445.5 146.1L446.5 146.4L447.5 146.9L448.3 147.5L448.9 148.3L449.3 149.1L449.5 149.8L449.4 150.8L449.1 151.6L448.5 152.3L447.8 153.0L446.9 153.6L445.8 153.9ZM464.5 154.6L463.0 154.6L461.8 154.5L460.5 154.1L459.5 153.6L458.7 152.8L458.3 152.1L458.3 151.6L458.3 151.1L458.7 150.3L459.4 149.6L460.3 149.1L461.5 148.6L462.8 148.4L464.0 148.4L465.3 148.6L466.5 149.1L467.4 149.6L468.1 150.3L468.5 151.1L468.5 151.8L468.2 152.6L467.6 153.3L466.8 153.8L465.8 154.3ZM443.3 169.8L441.5 170.0L440.5 169.9L439.8 169.6L439.0 169.2L438.3 168.6L437.8 168.1L437.3 167.3L437.0 166.6L436.7 165.6L436.7 164.6L436.8 163.8L437.0 162.9L437.5 162.1L438.0 161.3L438.5 160.8L439.5 160.2L440.5 159.8L451.3 157.7L452.5 157.7L453.8 158.1L454.8 158.6L455.8 159.6L456.5 160.6L456.9 161.6L457.1 162.6L457.1 163.6L456.8 164.6L456.4 165.6L455.9 166.3L455.2 167.1L454.3 167.6L453.0 168.1Z" fill="none" stroke="#666" stroke-width="0.40" stroke-linejoin="round"/>
<ellipse cx="444.2" cy="150.0" rx="2.6" ry="1.5" transform="rotate(0 444.2 150.0)" fill="#fff" stroke="#888" stroke-width="0.3"/>
<ellipse cx="463.7" cy="151.5" rx="2.4" ry="1.0" transform="rotate(0 463.7 151.5)" fill="#fff" stroke="#888" stroke-width="0.3"/>
<ellipse cx="443.3" cy="165.7" rx="3.2" ry="0.8" transform="rotate(-12 443.3 165.7)" fill="#fff" stroke="#888" stroke-width="0.3"/>
<ellipse cx="450.3" cy="163.3" rx="3.0" ry="0.9" transform="rotate(-12 450.3 163.3)" fill="#fff" stroke="#888" stroke-width="0.3"/>
<text x="477.30" y="166.60" font-size="6.60" font-weight="bold" text-anchor="start">41.2%</text>
<rect x="194.40" y="244.30" width="95.50" height="94.50" fill="none" stroke="#111" stroke-width="0.90"/>
<line x1="191.20" y1="272.20" x2="194.40" y2="272.20" stroke="#111" stroke-width="0.80"/>
<text x="190.70" y="274.45" font-size="6.35" font-weight="bold" text-anchor="end">100</text>
<line x1="191.20" y1="296.80" x2="194.40" y2="296.80" stroke="#111" stroke-width="0.80"/>
<text x="190.70" y="299.05" font-size="6.35" font-weight="bold" text-anchor="end">10</text>
<line x1="191.20" y1="304.20" x2="194.40" y2="304.20" stroke="#111" stroke-width="0.80"/>
<text x="190.70" y="306.45" font-size="6.35" font-weight="bold" text-anchor="end">5</text>
<line x1="191.20" y1="314.40" x2="194.40" y2="314.40" stroke="#111" stroke-width="0.80"/>
<text x="190.70" y="316.65" font-size="6.35" font-weight="bold" text-anchor="end">2</text>
<line x1="191.20" y1="321.80" x2="194.40" y2="321.80" stroke="#111" stroke-width="0.80"/>
<text x="190.70" y="324.05" font-size="6.35" font-weight="bold" text-anchor="end">1</text>
<line x1="191.20" y1="338.80" x2="194.40" y2="338.80" stroke="#111" stroke-width="0.80"/>
<text x="190.70" y="341.05" font-size="6.35" font-weight="bold" text-anchor="end">0.1</text>
<line x1="192.20" y1="247.80" x2="194.40" y2="247.80" stroke="#111" stroke-width="0.80"/>
<line x1="194.40" y1="338.80" x2="194.40" y2="340.80" stroke="#111" stroke-width="0.80"/>
<text x="194.40" y="347.00" font-size="6.35" font-weight="bold" text-anchor="middle">0</text>
<line x1="217.40" y1="338.80" x2="217.40" y2="340.80" stroke="#111" stroke-width="0.80"/>
<text x="217.40" y="347.00" font-size="6.35" font-weight="bold" text-anchor="middle">200</text>
<line x1="240.40" y1="338.80" x2="240.40" y2="340.80" stroke="#111" stroke-width="0.80"/>
<text x="240.40" y="347.00" font-size="6.35" font-weight="bold" text-anchor="middle">400</text>
<line x1="263.40" y1="338.80" x2="263.40" y2="340.80" stroke="#111" stroke-width="0.80"/>
<text x="263.40" y="347.00" font-size="6.35" font-weight="bold" text-anchor="middle">600</text>
<line x1="287.60" y1="338.80" x2="287.60" y2="340.80" stroke="#111" stroke-width="0.80"/>
<text x="198.90" y="253.70" font-size="8.20" font-weight="bold" text-anchor="start">U</text>
<rect x="204.60" y="285.60" width="41.20" height="19.40" fill="none" stroke="#222" stroke-width="0.70"/>
<path d="M222.4 302.3L220.2 302.4L217.7 302.2L215.9 301.9L213.7 301.1L211.9 300.2L210.4 299.0L209.3 297.6L208.6 296.1L208.4 295.1L208.4 293.8L208.6 292.8L209.0 291.8L210.0 290.1L212.1 287.6L212.8 286.6L213.1 285.8L213.5 283.6L214.0 282.1L214.9 280.6L215.9 279.3L216.9 278.4L217.9 277.8L219.2 277.1L220.5 276.6L221.3 276.1L222.2 275.2L223.3 273.3L224.1 272.3L224.7 271.8L225.4 271.4L226.7 271.0L227.9 270.9L229.2 271.1L230.4 271.5L232.9 272.7L233.9 272.9L234.9 273.0L236.2 272.8L237.5 272.6L245.2 270.6L246.9 270.5L248.2 270.7L249.2 271.1L250.2 271.6L251.2 272.4L252.1 273.6L252.6 274.6L253.0 275.8L253.2 277.3L253.1 278.6L252.7 279.8L252.1 281.1L251.3 282.1L250.4 282.8L249.4 283.4L237.6 288.8L235.7 289.8L235.1 290.3L234.7 291.1L234.3 293.8L234.0 294.8L233.5 295.8L232.8 297.1L231.7 298.3L229.9 299.7L227.7 300.9L226.4 301.4L224.9 301.9ZM220.4 302.1L218.4 302.0L216.4 301.6L214.4 301.0L212.7 300.1L211.4 299.2L210.3 298.1L209.5 296.8L209.0 295.3L209.0 294.3L209.1 293.3L209.4 292.3L209.8 291.3L210.5 290.3L211.3 289.3L214.0 286.8L214.6 286.1L215.0 285.3L215.6 283.6L216.0 282.6L216.6 281.6L217.4 280.6L218.2 280.0L219.2 279.4L219.9 279.0L222.0 278.3L223.4 277.6L224.0 277.1L224.3 276.6L225.0 274.6L225.4 273.7L226.2 273.0L227.2 272.7L227.9 272.6L228.9 272.8L229.9 273.3L231.9 274.6L232.7 274.9L233.7 275.1L234.9 275.0L236.7 274.7L245.9 272.4L247.2 272.4L248.2 272.7L249.2 273.2L249.9 273.8L250.5 274.6L250.9 275.3L251.3 276.3L251.4 277.3L251.3 278.3L250.9 279.3L250.5 280.1L249.9 280.8L248.7 281.7L235.8 287.6L234.7 288.1L234.0 288.6L233.7 289.1L233.6 289.6L233.7 292.8L233.6 294.1L233.3 295.1L232.8 296.1L232.0 297.3L231.0 298.3L229.9 299.2L227.9 300.4L225.4 301.3L222.9 301.9ZM222.7 301.6L221.2 301.7L219.4 301.7L217.7 301.5L216.2 301.2L214.7 300.7L213.2 300.0L211.9 299.1L211.1 298.3L210.3 297.3L209.8 296.3L209.5 295.3L209.5 294.1L209.7 292.8L210.1 291.8L210.7 290.8L211.7 289.6L213.2 288.3L216.4 285.8L217.1 285.1L218.0 283.3L218.7 282.4L219.7 281.6L220.7 281.1L224.4 280.0L229.2 278.3L233.7 277.6L235.7 277.2L245.9 274.7L246.7 274.7L247.2 274.8L247.7 275.0L248.2 275.3L248.6 275.8L248.9 276.3L249.0 276.8L249.0 277.6L248.9 278.2L248.7 278.7L247.9 279.5L233.7 286.1L232.7 286.7L232.2 287.1L231.9 287.6L231.9 288.1L233.0 291.3L233.1 292.3L233.1 293.6L232.8 294.8L232.4 295.8L231.8 296.8L230.9 297.8L229.4 299.1L227.4 300.2L224.9 301.1ZM222.2 301.3L219.4 301.4L217.9 301.2L216.7 301.0L214.4 300.2L212.7 299.2L211.9 298.6L211.2 297.8L210.7 297.1L210.3 296.3L210.0 295.6L209.9 294.6L210.0 293.6L210.2 292.8L210.7 291.6L211.4 290.6L212.3 289.6L213.4 288.6L215.4 287.2L220.9 284.2L221.7 283.9L224.7 283.5L226.7 283.4L227.9 283.5L228.1 283.6L228.3 283.8L228.2 284.8L228.4 285.6L231.0 288.6L231.8 289.8L232.2 290.8L232.5 291.8L232.6 292.8L232.6 293.8L232.3 294.8L231.8 296.1L231.1 297.1L229.9 298.3L228.7 299.2L227.2 300.0L225.4 300.7L223.7 301.1ZM221.9 301.1L219.7 301.1L217.4 300.8L215.2 300.2L213.4 299.3L211.9 298.1L211.0 296.8L210.6 296.1L210.4 295.3L210.4 293.8L210.8 292.3L211.3 291.3L211.9 290.6L213.4 289.1L215.2 287.9L217.4 286.7L219.9 285.9L221.9 285.6L223.9 285.7L225.7 286.0L227.4 286.7L228.9 287.5L230.2 288.6L231.1 289.8L231.8 291.1L232.1 292.3L232.1 293.8L231.8 295.1L231.2 296.3L230.2 297.6L228.9 298.6L227.7 299.4L225.9 300.2L224.2 300.7ZM221.2 300.8L218.7 300.7L216.4 300.3L214.4 299.5L212.9 298.5L212.2 297.8L211.6 297.1L211.2 296.3L211.0 295.6L210.8 294.8L210.8 294.1L211.0 293.1L211.3 292.3L212.2 290.8L212.9 290.0L213.9 289.2L215.9 287.9L218.2 286.9L220.4 286.4L222.4 286.2L224.7 286.5L226.9 287.1L228.4 287.9L229.4 288.7L230.3 289.6L231.0 290.6L231.5 291.8L231.7 292.8L231.6 294.1L231.2 295.3L230.7 296.3L229.9 297.3L228.7 298.3L227.4 299.1L225.9 299.8L224.4 300.3L222.7 300.7Z" fill="none" stroke="#111" stroke-width="0.55" stroke-linejoin="round"/>
<path d="M222.4 298.1L220.4 298.2L218.4 297.9L216.9 297.3L216.1 296.8L215.6 296.3L215.2 295.7L214.8 295.1L214.7 294.6L214.7 293.8L214.9 293.1L215.1 292.6L215.7 291.8L216.2 291.3L217.2 290.6L218.7 289.8L220.2 289.4L221.7 289.3L223.2 289.4L224.7 289.8L225.9 290.4L226.9 291.3L227.5 292.3L227.8 293.3L227.7 294.3L227.2 295.3L226.3 296.3L225.3 297.1L223.9 297.7Z" fill="none" stroke="#666" stroke-width="0.40" stroke-linejoin="round"/>
<path d="M216.4 292.9L226.4 292.1M216.4 295.5L226.4 294.7" fill="none" stroke="#fff" stroke-opacity="0.85" stroke-width="0.8" stroke-linecap="round"/>
<text x="251.40" y="299.60" font-size="6.60" font-weight="bold" text-anchor="start">80%</text>
<rect x="307.70" y="244.30" width="95.50" height="94.50" fill="none" stroke="#111" stroke-width="0.90"/>
<line x1="304.50" y1="272.20" x2="307.70" y2="272.20" stroke="#111" stroke-width="0.80"/>
<text x="304.00" y="274.45" font-size="6.35" font-weight="bold" text-anchor="end">100</text>
<line x1="304.50" y1="296.80" x2="307.70" y2="296.80" stroke="#111" stroke-width="0.80"/>
<text x="304.00" y="299.05" font-size="6.35" font-weight="bold" text-anchor="end">10</text>
<line x1="304.50" y1="304.20" x2="307.70" y2="304.20" stroke="#111" stroke-width="0.80"/>
<text x="304.00" y="306.45" font-size="6.35" font-weight="bold" text-anchor="end">5</text>
<line x1="304.50" y1="314.40" x2="307.70" y2="314.40" stroke="#111" stroke-width="0.80"/>
<text x="304.00" y="316.65" font-size="6.35" font-weight="bold" text-anchor="end">2</text>
<line x1="304.50" y1="321.80" x2="307.70" y2="321.80" stroke="#111" stroke-width="0.80"/>
<text x="304.00" y="324.05" font-size="6.35" font-weight="bold" text-anchor="end">1</text>
<line x1="304.50" y1="338.80" x2="307.70" y2="338.80" stroke="#111" stroke-width="0.80"/>
<text x="304.00" y="341.05" font-size="6.35" font-weight="bold" text-anchor="end">0.1</text>
<line x1="305.50" y1="247.80" x2="307.70" y2="247.80" stroke="#111" stroke-width="0.80"/>
<line x1="307.70" y1="338.80" x2="307.70" y2="340.80" stroke="#111" stroke-width="0.80"/>
<text x="307.70" y="347.00" font-size="6.35" font-weight="bold" text-anchor="middle">0</text>
<line x1="330.70" y1="338.80" x2="330.70" y2="340.80" stroke="#111" stroke-width="0.80"/>
<text x="330.70" y="347.00" font-size="6.35" font-weight="bold" text-anchor="middle">200</text>
<line x1="353.70" y1="338.80" x2="353.70" y2="340.80" stroke="#111" stroke-width="0.80"/>
<text x="353.70" y="347.00" font-size="6.35" font-weight="bold" text-anchor="middle">400</text>
<line x1="376.70" y1="338.80" x2="376.70" y2="340.80" stroke="#111" stroke-width="0.80"/>
<text x="376.70" y="347.00" font-size="6.35" font-weight="bold" text-anchor="middle">600</text>
<line x1="400.90" y1="338.80" x2="400.90" y2="340.80" stroke="#111" stroke-width="0.80"/>
<text x="312.20" y="253.70" font-size="8.20" font-weight="bold" text-anchor="start">C1</text>
<rect x="317.90" y="285.60" width="41.20" height="19.40" fill="none" stroke="#222" stroke-width="0.70"/>
<path d="M336.2 305.3L334.2 305.4L331.9 305.2L329.9 304.6L327.9 303.7L326.2 302.5L324.5 300.8L323.3 299.1L322.3 297.1L321.8 295.1L321.6 293.8L321.5 292.3L321.6 290.6L322.2 286.6L322.5 283.3L322.9 281.8L323.5 280.3L324.5 278.8L325.7 277.6L327.4 276.5L329.2 275.8L376.4 265.0L378.2 264.9L378.9 265.0L379.9 265.2L381.4 266.0L382.7 267.2L383.4 268.3L383.9 269.6L384.1 270.8L384.1 272.1L383.8 273.3L383.3 274.6L382.6 275.6L381.8 276.3L380.9 276.9L379.9 277.4L350.2 288.1L348.4 288.8L347.9 289.3L347.7 290.1L347.6 293.8L347.1 296.3L346.3 298.3L345.1 300.3L344.2 301.3L343.2 302.3L341.2 303.7L338.9 304.7L337.4 305.1ZM336.9 304.8L334.9 305.0L332.7 304.9L330.4 304.4L328.4 303.5L326.7 302.4L325.0 300.8L323.7 299.1L322.9 297.3L322.3 295.6L322.0 293.6L322.0 291.3L322.3 289.3L323.8 283.1L324.2 281.8L324.7 280.8L325.1 280.1L325.8 279.3L326.6 278.6L327.9 277.6L329.4 277.0L376.7 265.8L378.2 265.8L379.7 266.1L380.9 266.8L382.0 267.8L382.7 268.8L383.1 269.8L383.3 271.1L383.2 272.3L382.8 273.6L382.2 274.6L381.4 275.4L380.4 276.1L379.4 276.6L348.9 287.3L348.2 287.6L347.7 287.9L347.4 288.3L347.2 289.1L347.2 292.8L347.0 295.1L346.3 297.3L345.3 299.3L344.6 300.3L343.7 301.3L342.7 302.2L341.7 302.9L340.4 303.7L339.4 304.1L338.4 304.5ZM336.4 304.6L334.4 304.7L332.2 304.5L330.2 303.9L328.2 303.0L326.4 301.7L325.1 300.3L323.9 298.6L323.0 296.8L322.6 295.1L322.3 293.1L322.4 291.1L322.8 288.8L323.6 286.3L325.3 282.1L326.2 280.6L327.4 279.3L328.4 278.7L329.7 278.2L376.7 266.7L377.9 266.6L379.2 266.8L380.4 267.5L381.3 268.3L382.0 269.3L382.3 270.3L382.4 271.3L382.3 272.3L382.0 273.3L381.5 274.1L380.9 274.8L379.9 275.4L379.2 275.8L348.6 286.3L347.2 286.9L346.7 287.6L346.6 288.3L346.9 292.6L346.8 293.8L346.6 295.1L346.1 297.1L345.0 299.1L344.3 300.1L343.4 301.1L342.4 301.9L341.4 302.7L340.2 303.4L338.9 303.9L337.4 304.4ZM335.9 304.3L333.9 304.4L331.9 304.1L329.9 303.5L328.2 302.6L326.7 301.5L325.3 300.1L324.1 298.3L323.3 296.6L322.8 294.6L322.7 292.6L322.8 290.6L323.3 288.6L324.4 285.8L325.7 283.2L326.8 281.6L327.9 280.3L328.9 279.7L330.2 279.2L376.9 267.5L377.9 267.4L378.9 267.6L379.9 268.1L380.7 268.8L381.2 269.6L381.4 270.3L381.6 271.1L381.5 272.1L381.3 272.8L380.9 273.6L380.2 274.3L379.4 274.8L348.3 285.3L347.2 285.7L346.5 286.1L346.1 286.6L346.0 287.3L346.5 291.8L346.5 293.1L346.4 294.3L345.9 296.6L345.1 298.3L344.3 299.6L343.4 300.6L342.4 301.5L341.2 302.4L339.9 303.2L338.7 303.7L337.2 304.1ZM335.2 304.1L333.2 304.0L331.4 303.7L329.4 302.9L327.7 301.9L326.2 300.6L325.1 299.3L324.1 297.6L323.4 295.8L323.1 294.1L323.0 292.1L323.3 290.1L323.7 288.3L324.6 286.3L325.9 284.1L327.2 282.3L328.4 281.2L329.4 280.6L330.4 280.2L338.6 278.3L360.7 272.6L371.7 269.7L376.9 268.4L377.9 268.3L378.7 268.5L379.4 268.9L380.1 269.6L380.4 270.1L380.6 270.8L380.7 271.6L380.6 272.1L380.3 272.8L379.9 273.3L379.4 273.7L378.9 274.0L347.8 284.3L345.9 285.1L345.4 285.6L345.3 286.6L346.1 291.1L346.2 292.6L346.2 293.8L346.0 295.1L345.6 296.3L344.7 298.3L343.9 299.6L343.0 300.6L341.9 301.5L340.7 302.4L339.2 303.2L337.9 303.6L336.4 303.9ZM336.4 303.6L334.4 303.7L332.7 303.6L330.9 303.2L328.9 302.3L327.4 301.3L325.9 299.8L324.9 298.3L324.0 296.6L323.5 294.8L323.3 292.8L323.5 290.8L323.9 289.1L324.7 287.1L325.8 285.1L327.2 283.3L328.4 282.2L329.7 281.4L331.2 280.9L333.4 280.4L338.2 279.8L339.9 279.5L347.7 277.5L351.7 276.1L355.4 275.4L359.4 274.4L361.7 273.7L364.9 272.4L366.4 272.0L368.9 271.5L370.9 270.7L371.9 270.4L372.9 270.2L375.2 270.1L377.7 269.6L378.4 269.8L379.1 270.3L379.4 271.1L379.3 271.8L378.9 272.5L378.4 272.8L373.2 274.7L370.4 275.5L367.2 276.7L361.2 278.4L356.7 279.9L353.2 281.2L348.7 282.5L345.9 283.4L344.9 283.8L344.7 284.1L344.4 284.4L344.4 285.3L345.6 290.1L345.8 291.6L345.9 292.8L345.6 295.1L345.0 297.1L344.3 298.3L343.5 299.6L342.6 300.6L341.4 301.5L340.4 302.2L338.9 302.9L337.7 303.3Z" fill="none" stroke="#111" stroke-width="0.55" stroke-linejoin="round"/>
<path d="M335.7 300.6L333.9 300.6L332.4 300.4L330.9 299.8L329.7 299.1L328.6 298.1L327.6 296.8L326.9 295.4L326.5 293.8L326.5 292.1L326.7 290.4L327.2 288.8L328.1 287.3L329.2 286.1L330.2 285.3L331.4 284.6L333.2 284.2L334.9 284.1L336.4 284.3L337.9 284.8L339.2 285.6L340.4 286.7L341.4 288.1L342.2 289.8L342.6 291.3L342.7 293.1L342.5 294.6L342.0 296.1L341.2 297.3L340.1 298.6L338.7 299.6L337.2 300.2Z" fill="none" stroke="#666" stroke-width="0.40" stroke-linejoin="round"/>
<ellipse cx="353.2" cy="277.5" rx="1.0" ry="0.6" transform="rotate(-18 353.2 277.5)" fill="#fff" stroke="#888" stroke-width="0.3"/>
<ellipse cx="357.7" cy="276.1" rx="1.0" ry="0.6" transform="rotate(-18 357.7 276.1)" fill="#fff" stroke="#888" stroke-width="0.3"/>
<ellipse cx="362.2" cy="274.7" rx="1.0" ry="0.6" transform="rotate(-18 362.2 274.7)" fill="#fff" stroke="#888" stroke-width="0.3"/>
<path d="M329.7 290.9L339.7 290.7M329.7 294.1L339.7 293.7M331.7 288.3L337.7 287.9M330.7 296.7L337.7 296.5M328.7 292.5L333.7 292.3M335.7 295.3L340.7 295.1" fill="none" stroke="#fff" stroke-opacity="0.85" stroke-width="0.8" stroke-linecap="round"/>
<text x="362.70" y="299.60" font-size="6.60" font-weight="bold" text-anchor="start">62.4%</text>
<rect x="420.80" y="244.30" width="95.50" height="94.50" fill="none" stroke="#111" stroke-width="0.90"/>
<line x1="417.60" y1="272.20" x2="420.80" y2="272.20" stroke="#111" stroke-width="0.80"/>
<text x="417.10" y="274.45" font-size="6.35" font-weight="bold" text-anchor="end">100</text>
<line x1="417.60" y1="296.80" x2="420.80" y2="296.80" stroke="#111" stroke-width="0.80"/>
<text x="417.10" y="299.05" font-size="6.35" font-weight="bold" text-anchor="end">10</text>
<line x1="417.60" y1="304.20" x2="420.80" y2="304.20" stroke="#111" stroke-width="0.80"/>
<text x="417.10" y="306.45" font-size="6.35" font-weight="bold" text-anchor="end">5</text>
<line x1="417.60" y1="314.40" x2="420.80" y2="314.40" stroke="#111" stroke-width="0.80"/>
<text x="417.10" y="316.65" font-size="6.35" font-weight="bold" text-anchor="end">2</text>
<line x1="417.60" y1="321.80" x2="420.80" y2="321.80" stroke="#111" stroke-width="0.80"/>
<text x="417.10" y="324.05" font-size="6.35" font-weight="bold" text-anchor="end">1</text>
<line x1="417.60" y1="338.80" x2="420.80" y2="338.80" stroke="#111" stroke-width="0.80"/>
<text x="417.10" y="341.05" font-size="6.35" font-weight="bold" text-anchor="end">0.1</text>
<line x1="418.60" y1="247.80" x2="420.80" y2="247.80" stroke="#111" stroke-width="0.80"/>
<line x1="420.80" y1="338.80" x2="420.80" y2="340.80" stroke="#111" stroke-width="0.80"/>
<text x="420.80" y="347.00" font-size="6.35" font-weight="bold" text-anchor="middle">0</text>
<line x1="443.80" y1="338.80" x2="443.80" y2="340.80" stroke="#111" stroke-width="0.80"/>
<text x="443.80" y="347.00" font-size="6.35" font-weight="bold" text-anchor="middle">200</text>
<line x1="466.80" y1="338.80" x2="466.80" y2="340.80" stroke="#111" stroke-width="0.80"/>
<text x="466.80" y="347.00" font-size="6.35" font-weight="bold" text-anchor="middle">400</text>
<line x1="489.80" y1="338.80" x2="489.80" y2="340.80" stroke="#111" stroke-width="0.80"/>
<text x="489.80" y="347.00" font-size="6.35" font-weight="bold" text-anchor="middle">600</text>
<line x1="514.00" y1="338.80" x2="514.00" y2="340.80" stroke="#111" stroke-width="0.80"/>
<text x="425.30" y="253.70" font-size="8.20" font-weight="bold" text-anchor="start">C2</text>
<rect x="431.00" y="285.60" width="41.20" height="19.40" fill="none" stroke="#222" stroke-width="0.70"/>
<path d="M451.3 304.3L448.5 304.4L446.0 304.3L443.8 303.9L441.5 303.2L439.5 302.2L438.0 301.2L436.6 299.8L435.7 298.3L435.4 297.6L435.1 296.6L435.0 294.8L435.1 293.8L435.5 292.6L436.8 289.3L437.0 288.6L437.0 287.6L436.5 285.3L436.6 283.8L436.9 282.8L437.6 281.6L438.5 280.3L439.5 279.2L440.8 278.1L442.0 277.2L443.8 276.1L445.3 275.4L448.8 273.9L451.0 273.2L453.0 272.7L455.8 272.1L458.8 271.8L461.5 271.6L466.3 271.6L468.5 271.4L470.4 270.8L475.8 268.4L479.7 267.1L483.0 265.8L485.0 265.2L486.8 265.2L488.3 265.4L489.8 266.1L490.9 267.1L491.6 268.1L492.1 269.3L492.1 270.6L491.7 272.1L491.0 273.3L488.8 276.2L486.7 279.3L485.7 280.6L484.8 281.6L483.5 282.6L482.3 283.5L481.0 284.2L479.3 285.0L476.3 285.9L470.3 287.0L468.8 287.5L467.8 288.0L467.3 288.6L467.0 289.3L467.0 292.8L466.9 293.8L466.7 294.8L466.2 296.1L465.8 296.8L464.8 298.1L464.0 298.9L462.8 300.0L461.5 300.9L460.3 301.7L458.5 302.5L456.8 303.2L455.0 303.7L452.8 304.1ZM451.8 303.8L449.0 304.0L446.5 303.9L444.0 303.4L441.8 302.7L439.8 301.7L438.3 300.6L437.1 299.3L436.2 297.8L435.9 296.8L435.7 295.6L435.8 294.3L436.1 293.1L436.9 291.1L438.6 288.3L439.1 287.3L439.3 286.3L439.2 284.1L439.6 282.6L440.5 281.1L441.8 279.6L444.0 277.8L446.8 276.3L450.0 274.9L453.3 274.0L456.0 273.4L459.0 273.1L461.8 273.1L466.3 273.2L467.5 273.2L468.5 273.0L470.5 272.3L474.0 270.5L475.8 269.7L480.0 268.3L483.5 266.9L485.0 266.5L486.5 266.4L487.8 266.6L488.8 267.1L489.8 267.8L490.3 268.6L490.6 269.6L490.7 270.6L490.3 271.8L489.5 273.1L487.5 275.6L485.5 278.8L484.7 279.8L483.8 280.8L482.5 281.8L481.3 282.7L479.8 283.4L478.5 283.9L475.8 284.6L471.5 285.2L469.8 285.5L468.0 286.1L466.5 286.9L465.9 287.6L465.7 288.3L466.3 291.8L466.3 292.8L466.2 294.1L465.9 295.1L465.5 296.1L464.9 297.1L464.1 298.1L463.0 299.1L461.8 300.1L460.5 301.0L458.8 301.9L456.8 302.7L455.3 303.2L453.3 303.6ZM450.3 303.6L447.8 303.6L445.3 303.3L443.0 302.7L441.3 302.0L439.5 301.0L438.2 299.8L437.1 298.3L436.5 296.8L436.4 295.8L436.4 294.6L436.6 293.3L437.0 292.3L438.2 290.3L440.8 287.1L441.3 286.3L441.6 285.6L441.8 283.6L442.2 282.3L442.9 281.1L444.1 279.8L445.8 278.5L448.0 277.2L450.5 276.1L453.5 275.2L456.5 274.7L459.3 274.4L462.0 274.5L466.3 274.9L468.0 274.8L469.0 274.5L470.0 274.1L473.8 271.9L475.8 271.0L477.5 270.3L481.2 269.3L484.5 268.0L485.8 267.8L486.8 267.8L487.8 268.2L488.5 268.8L488.9 269.6L489.0 270.3L488.9 271.1L488.6 271.8L486.5 274.6L484.8 277.6L484.0 278.8L482.9 280.1L481.7 281.1L480.5 281.8L479.5 282.3L478.3 282.8L477.0 283.1L474.8 283.5L470.5 283.7L468.8 284.1L467.5 284.6L466.3 285.2L465.3 285.8L464.7 286.3L464.4 286.8L464.4 287.6L465.6 291.3L465.7 292.6L465.6 293.8L465.3 295.1L464.7 296.3L463.7 297.8L462.5 298.9L461.3 299.9L460.0 300.8L458.8 301.4L457.0 302.2L455.5 302.7L453.5 303.2L451.8 303.4ZM451.8 303.1L449.3 303.2L446.8 303.1L444.5 302.7L442.3 302.0L440.3 300.9L438.9 299.8L438.3 299.1L437.7 298.3L437.1 296.8L436.9 295.6L437.0 294.3L437.3 293.1L437.9 291.8L438.7 290.6L439.5 289.5L442.8 286.3L443.5 285.6L444.0 284.6L444.4 283.1L444.7 282.1L445.4 281.1L446.1 280.3L447.0 279.6L448.0 278.8L450.3 277.6L453.0 276.7L455.8 276.1L458.3 275.8L460.5 275.8L462.8 276.0L466.8 276.9L467.8 276.9L468.5 276.8L469.3 276.5L470.0 276.0L474.2 273.1L476.5 271.9L478.5 271.3L482.3 270.7L484.8 270.1L485.5 270.1L486.0 270.3L486.2 270.8L486.2 271.3L485.0 273.4L484.1 276.1L483.5 277.3L482.8 278.3L482.2 279.1L481.4 279.8L480.5 280.4L479.5 281.0L478.5 281.5L477.3 281.8L476.0 282.1L473.8 282.1L470.3 281.8L468.8 282.0L467.8 282.3L466.8 282.9L464.2 284.6L463.3 285.3L462.9 286.1L463.0 286.8L464.6 290.3L464.9 291.3L465.1 292.6L465.1 293.6L464.9 294.6L464.5 295.6L464.0 296.6L463.0 297.8L461.8 299.0L460.5 300.0L459.0 300.9L457.3 301.7L455.8 302.2L453.8 302.7ZM476.8 280.6L475.5 280.7L474.3 280.5L473.0 280.1L472.3 279.6L471.8 279.1L471.7 278.3L471.8 277.6L472.2 276.8L473.0 275.8L474.0 274.8L475.3 273.9L476.5 273.3L478.0 272.8L479.3 272.7L480.5 272.7L481.6 273.1L482.0 273.4L482.3 273.8L482.5 274.8L482.5 275.6L482.3 276.3L481.7 277.6L480.8 278.6L479.6 279.6L478.3 280.2ZM451.0 302.8L449.3 302.9L447.8 302.8L446.3 302.7L444.8 302.4L443.3 301.9L442.0 301.4L440.8 300.7L439.9 300.1L439.0 299.2L438.3 298.3L437.9 297.6L437.6 296.6L437.5 295.6L437.5 294.6L437.7 293.6L438.2 292.3L439.1 290.8L440.7 289.1L442.3 287.7L445.2 285.6L446.1 284.8L446.6 284.1L447.2 282.3L447.8 281.3L448.8 280.3L450.3 279.3L451.8 278.6L453.5 277.9L455.3 277.5L457.0 277.3L458.8 277.2L460.5 277.4L462.0 277.7L463.3 278.2L464.3 278.8L464.8 279.3L465.1 280.1L465.0 280.8L464.8 281.3L464.3 282.1L463.5 282.8L461.5 284.5L461.3 284.8L461.1 285.3L461.2 285.8L461.4 286.3L463.5 289.3L464.0 290.3L464.4 291.3L464.6 292.6L464.5 293.6L464.3 294.6L463.9 295.8L463.1 297.1L462.0 298.3L460.5 299.5L459.0 300.4L457.0 301.4L455.3 302.0L453.3 302.5ZM477.3 278.3L476.5 278.3L475.8 278.1L475.5 277.8L475.4 277.3L475.6 276.6L476.2 275.8L477.0 275.3L478.0 275.0L478.5 275.1L479.0 275.2L479.4 275.6L479.6 276.1L479.5 276.6L479.3 277.0L478.5 277.8L478.0 278.1ZM452.0 302.3L449.0 302.5L447.5 302.4L446.0 302.2L443.5 301.6L442.5 301.2L441.3 300.5L440.4 299.8L439.6 299.1L439.0 298.3L438.4 297.3L438.2 296.6L438.0 295.6L438.1 294.6L438.3 293.6L438.7 292.6L439.4 291.3L440.2 290.3L441.2 289.3L442.5 288.2L444.0 287.2L449.8 284.1L450.6 283.3L451.2 282.1L451.5 281.6L452.3 280.8L453.7 280.1L455.5 279.5L457.3 279.3L458.3 279.4L459.0 279.6L459.8 279.9L460.3 280.3L460.5 280.8L460.5 281.3L460.3 281.8L459.9 282.3L458.4 283.8L458.3 284.1L458.3 284.6L458.8 285.3L461.8 288.1L462.6 289.1L463.2 290.1L463.7 291.1L464.0 292.3L464.0 293.6L463.7 294.8L463.1 296.1L462.3 297.3L461.1 298.6L459.5 299.7L457.8 300.6L456.0 301.4L454.0 302.0Z" fill="none" stroke="#111" stroke-width="0.55" stroke-linejoin="round"/>
<path d="M451.0 299.3L449.0 299.3L447.3 299.1L445.5 298.4L444.3 297.6L443.4 296.6L443.2 296.1L443.0 295.3L443.0 294.1L443.5 292.8L444.5 291.6L445.8 290.5L447.5 289.6L449.5 289.0L451.5 288.7L453.3 288.7L455.0 289.1L456.7 289.8L457.4 290.3L458.0 290.9L458.5 291.6L458.9 292.3L459.1 293.1L459.1 293.8L458.9 294.6L458.5 295.3L458.1 296.1L457.4 296.8L456.5 297.4L455.5 298.0L453.5 298.8L452.3 299.1Z" fill="none" stroke="#666" stroke-width="0.40" stroke-linejoin="round"/>
<path d="M444.8 294.5L457.8 292.5M445.8 296.9L457.8 295.3M447.8 291.7L456.8 290.5" fill="none" stroke="#fff" stroke-opacity="0.85" stroke-width="0.8" stroke-linecap="round"/>
<text x="477.30" y="299.60" font-size="6.60" font-weight="bold" text-anchor="start">59.8%</text>
<rect x="193.80" y="355.80" width="95.50" height="94.50" fill="none" stroke="#111" stroke-width="0.90"/>
<line x1="190.60" y1="383.70" x2="193.80" y2="383.70" stroke="#111" stroke-width="0.80"/>
<text x="190.10" y="385.95" font-size="6.35" font-weight="bold" text-anchor="end">100</text>
<line x1="190.60" y1="408.30" x2="193.80" y2="408.30" stroke="#111" stroke-width="0.80"/>
<text x="190.10" y="410.55" font-size="6.35" font-weight="bold" text-anchor="end">10</text>
<line x1="190.60" y1="415.70" x2="193.80" y2="415.70" stroke="#111" stroke-width="0.80"/>
<text x="190.10" y="417.95" font-size="6.35" font-weight="bold" text-anchor="end">5</text>
<line x1="190.60" y1="425.90" x2="193.80" y2="425.90" stroke="#111" stroke-width="0.80"/>
<text x="190.10" y="428.15" font-size="6.35" font-weight="bold" text-anchor="end">2</text>
<line x1="190.60" y1="433.30" x2="193.80" y2="433.30" stroke="#111" stroke-width="0.80"/>
<text x="190.10" y="435.55" font-size="6.35" font-weight="bold" text-anchor="end">1</text>
<line x1="190.60" y1="450.30" x2="193.80" y2="450.30" stroke="#111" stroke-width="0.80"/>
<text x="190.10" y="452.55" font-size="6.35" font-weight="bold" text-anchor="end">0.1</text>
<line x1="191.60" y1="359.30" x2="193.80" y2="359.30" stroke="#111" stroke-width="0.80"/>
<line x1="193.80" y1="450.30" x2="193.80" y2="452.30" stroke="#111" stroke-width="0.80"/>
<text x="193.80" y="458.50" font-size="6.35" font-weight="bold" text-anchor="middle">0</text>
<line x1="216.80" y1="450.30" x2="216.80" y2="452.30" stroke="#111" stroke-width="0.80"/>
<text x="216.80" y="458.50" font-size="6.35" font-weight="bold" text-anchor="middle">200</text>
<line x1="239.80" y1="450.30" x2="239.80" y2="452.30" stroke="#111" stroke-width="0.80"/>
<text x="239.80" y="458.50" font-size="6.35" font-weight="bold" text-anchor="middle">400</text>
<line x1="262.80" y1="450.30" x2="262.80" y2="452.30" stroke="#111" stroke-width="0.80"/>
<text x="262.80" y="458.50" font-size="6.35" font-weight="bold" text-anchor="middle">600</text>
<line x1="287.00" y1="450.30" x2="287.00" y2="452.30" stroke="#111" stroke-width="0.80"/>
<text x="198.30" y="365.20" font-size="8.20" font-weight="bold" text-anchor="start">C3</text>
<rect x="204.30" y="397.40" width="41.10" height="19.20" fill="none" stroke="#222" stroke-width="0.70"/>
<path d="M225.6 418.1L222.6 418.3L219.6 418.1L216.6 417.5L215.1 416.9L213.8 416.4L212.6 415.7L211.6 415.0L210.6 414.2L209.7 413.3L209.0 412.3L208.4 411.3L207.9 410.1L207.7 409.1L207.7 407.8L207.8 406.6L208.2 405.3L208.7 404.3L209.4 403.1L210.2 402.1L213.6 398.6L214.0 398.1L214.3 397.3L214.4 395.8L213.8 391.6L213.7 389.6L213.9 387.3L214.5 385.6L215.1 384.6L215.6 383.8L216.3 383.1L217.1 382.5L218.1 381.9L219.1 381.5L221.1 381.0L222.3 380.9L223.8 381.0L225.1 381.3L226.6 381.7L228.6 382.6L236.1 386.4L237.8 387.4L240.1 389.1L241.2 390.1L242.0 391.1L242.7 392.1L243.3 393.1L243.7 394.1L244.0 395.3L244.0 396.3L243.9 397.3L243.4 399.1L242.5 400.8L240.6 403.3L240.1 404.1L239.6 405.3L239.0 408.1L238.5 409.6L237.7 411.1L236.9 412.3L236.0 413.3L234.8 414.3L233.6 415.2L232.1 416.1L230.3 416.9L228.8 417.4L227.6 417.7ZM224.6 417.6L221.6 417.6L218.6 417.3L215.8 416.5L213.6 415.5L211.6 414.0L210.8 413.3L210.0 412.3L209.4 411.3L208.9 410.3L208.6 408.6L208.7 407.1L209.0 405.8L209.6 404.3L210.5 403.1L211.4 402.1L212.6 401.0L216.5 398.1L217.2 397.3L217.5 396.8L217.6 396.3L217.5 395.6L216.7 391.3L216.5 389.3L216.6 387.6L217.1 386.1L218.0 384.8L219.1 383.9L220.3 383.3L221.8 383.0L222.8 383.0L223.8 383.1L224.8 383.3L226.1 383.8L234.1 387.9L236.1 389.1L237.9 390.6L239.3 392.1L239.8 392.8L240.3 393.8L240.5 394.6L240.6 395.6L240.6 396.8L240.3 398.1L239.6 399.3L238.3 401.3L238.0 402.1L237.9 403.1L238.1 406.3L237.9 408.1L237.4 409.8L236.9 410.8L236.2 411.8L235.2 413.1L234.1 414.0L232.8 414.9L231.3 415.7L229.8 416.4L228.1 416.9L226.1 417.4ZM224.6 417.1L221.8 417.2L219.3 416.9L216.6 416.2L214.3 415.2L212.3 413.9L211.4 413.1L210.8 412.3L210.1 411.3L209.7 410.3L209.4 409.3L209.3 408.6L209.4 406.8L209.9 405.3L210.7 403.8L211.8 402.6L213.1 401.4L214.3 400.5L216.1 399.4L219.8 397.6L220.5 397.1L220.9 396.6L221.1 396.1L221.0 395.6L220.0 390.6L219.9 389.3L220.0 388.3L220.3 387.3L220.9 386.6L221.8 386.0L222.8 385.9L224.1 386.0L225.6 386.5L231.8 389.6L233.8 390.8L235.1 391.8L236.1 392.9L236.7 394.1L237.0 395.3L237.0 396.1L236.8 396.8L236.5 397.6L235.6 399.3L235.5 400.1L235.7 401.1L236.9 404.3L237.2 406.3L237.2 407.6L237.0 408.8L236.6 409.8L236.1 410.8L235.3 412.1L234.3 413.1L233.1 414.1L231.6 415.0L230.1 415.7L228.1 416.4L226.1 416.9ZM225.3 416.6L223.8 416.7L222.3 416.8L220.8 416.7L219.3 416.5L218.1 416.2L216.6 415.7L214.3 414.7L213.3 414.0L212.4 413.3L211.7 412.6L210.9 411.6L210.4 410.6L210.1 409.6L209.9 408.6L209.9 407.3L210.3 405.8L211.1 404.3L212.3 402.8L213.6 401.6L215.8 400.2L218.6 399.0L221.1 398.2L225.6 397.1L226.9 396.6L227.1 396.3L227.1 396.1L226.7 394.6L226.7 394.1L226.9 393.6L227.1 393.3L227.6 393.0L228.6 393.0L229.8 393.5L230.3 393.8L230.7 394.3L230.9 394.8L230.9 395.3L230.8 395.8L230.3 396.8L230.3 397.3L230.9 398.1L233.1 400.0L234.1 401.0L234.9 402.1L235.6 403.3L236.2 404.6L236.5 405.6L236.6 406.8L236.5 408.1L236.1 409.6L235.3 411.1L234.3 412.4L232.8 413.7L231.3 414.6L229.6 415.5L227.3 416.2ZM224.3 416.3L221.6 416.4L220.1 416.2L218.6 415.9L216.1 415.1L214.8 414.5L213.8 413.8L212.8 413.1L212.1 412.3L211.4 411.3L211.0 410.6L210.7 409.8L210.5 408.8L210.4 407.8L210.6 406.8L210.9 405.8L211.3 404.8L212.0 403.8L212.7 403.1L213.6 402.2L214.6 401.5L216.8 400.2L219.6 399.2L221.3 398.7L222.8 398.5L225.6 398.3L226.8 398.4L228.1 398.6L229.8 399.2L231.3 399.9L232.8 401.0L234.2 402.3L235.2 403.8L235.7 405.1L236.0 406.6L235.9 408.3L235.5 409.8L234.6 411.3L233.5 412.6L232.1 413.7L230.3 414.7L228.6 415.4L226.6 416.0ZM225.3 415.8L223.6 416.0L221.6 416.0L219.6 415.7L218.1 415.4L216.3 414.7L214.8 414.0L213.6 413.1L212.6 412.1L211.8 411.1L211.3 409.8L211.0 408.6L211.0 407.3L211.3 406.1L211.9 404.8L212.8 403.6L213.8 402.6L215.8 401.2L217.3 400.5L218.6 400.0L220.3 399.5L221.6 399.2L223.1 399.0L224.6 399.0L225.8 399.0L227.3 399.2L228.8 399.6L229.8 400.0L230.8 400.4L232.1 401.2L233.1 402.0L233.8 402.8L234.5 403.8L235.0 404.8L235.3 405.8L235.5 406.8L235.4 407.8L235.2 408.8L234.9 409.8L234.3 410.8L233.6 411.8L232.8 412.5L231.8 413.3L230.8 414.0L229.6 414.6L228.1 415.2Z" fill="none" stroke="#111" stroke-width="0.55" stroke-linejoin="round"/>
<path d="M225.1 412.8L223.8 413.0L222.6 413.0L220.3 412.7L219.3 412.4L218.3 412.0L217.6 411.5L216.6 410.8L216.0 410.1L215.6 409.3L215.4 408.6L215.4 407.8L215.5 407.1L215.7 406.3L216.2 405.6L216.8 404.8L218.0 403.8L219.6 403.0L221.3 402.5L223.3 402.3L225.1 402.4L226.8 402.7L228.3 403.4L229.6 404.3L230.1 404.8L230.6 405.6L231.0 406.8L231.0 408.1L230.6 409.3L229.6 410.6L228.4 411.6L226.8 412.3Z" fill="none" stroke="#666" stroke-width="0.40" stroke-linejoin="round"/>
<path d="M216.8 406.6L228.8 406.0M216.8 409.2L229.8 408.4" fill="none" stroke="#fff" stroke-opacity="0.85" stroke-width="0.8" stroke-linecap="round"/>
<circle cx="259.3" cy="391.2" r="0.9" fill="none" stroke="#333" stroke-width="0.5"/>
<text x="247.80" y="408.00" font-size="6.60" font-weight="bold" text-anchor="start">79.3%</text>
<rect x="307.10" y="355.80" width="95.50" height="94.50" fill="none" stroke="#111" stroke-width="0.90"/>
<line x1="303.90" y1="383.70" x2="307.10" y2="383.70" stroke="#111" stroke-width="0.80"/>
<text x="303.40" y="385.95" font-size="6.35" font-weight="bold" text-anchor="end">100</text>
<line x1="303.90" y1="408.30" x2="307.10" y2="408.30" stroke="#111" stroke-width="0.80"/>
<text x="303.40" y="410.55" font-size="6.35" font-weight="bold" text-anchor="end">10</text>
<line x1="303.90" y1="415.70" x2="307.10" y2="415.70" stroke="#111" stroke-width="0.80"/>
<text x="303.40" y="417.95" font-size="6.35" font-weight="bold" text-anchor="end">5</text>
<line x1="303.90" y1="425.90" x2="307.10" y2="425.90" stroke="#111" stroke-width="0.80"/>
<text x="303.40" y="428.15" font-size="6.35" font-weight="bold" text-anchor="end">2</text>
<line x1="303.90" y1="433.30" x2="307.10" y2="433.30" stroke="#111" stroke-width="0.80"/>
<text x="303.40" y="435.55" font-size="6.35" font-weight="bold" text-anchor="end">1</text>
<line x1="303.90" y1="450.30" x2="307.10" y2="450.30" stroke="#111" stroke-width="0.80"/>
<text x="303.40" y="452.55" font-size="6.35" font-weight="bold" text-anchor="end">0.1</text>
<line x1="304.90" y1="359.30" x2="307.10" y2="359.30" stroke="#111" stroke-width="0.80"/>
<line x1="307.10" y1="450.30" x2="307.10" y2="452.30" stroke="#111" stroke-width="0.80"/>
<text x="307.10" y="458.50" font-size="6.35" font-weight="bold" text-anchor="middle">0</text>
<line x1="330.10" y1="450.30" x2="330.10" y2="452.30" stroke="#111" stroke-width="0.80"/>
<text x="330.10" y="458.50" font-size="6.35" font-weight="bold" text-anchor="middle">200</text>
<line x1="353.10" y1="450.30" x2="353.10" y2="452.30" stroke="#111" stroke-width="0.80"/>
<text x="353.10" y="458.50" font-size="6.35" font-weight="bold" text-anchor="middle">400</text>
<line x1="376.10" y1="450.30" x2="376.10" y2="452.30" stroke="#111" stroke-width="0.80"/>
<text x="376.10" y="458.50" font-size="6.35" font-weight="bold" text-anchor="middle">600</text>
<line x1="400.30" y1="450.30" x2="400.30" y2="452.30" stroke="#111" stroke-width="0.80"/>
<text x="311.60" y="365.20" font-size="8.20" font-weight="bold" text-anchor="start">C4</text>
<rect x="317.60" y="397.40" width="41.10" height="19.20" fill="none" stroke="#222" stroke-width="0.70"/>
<path d="M335.6 418.3L333.1 418.4L330.9 418.3L328.9 417.9L326.9 417.4L324.9 416.7L323.4 415.9L322.1 415.0L321.1 414.0L320.2 412.8L319.7 411.8L319.4 410.6L319.5 409.1L319.7 407.8L320.4 406.3L321.4 404.8L322.6 403.4L328.4 398.1L332.5 393.3L334.6 391.3L336.4 390.0L338.1 388.9L340.1 388.0L341.9 387.3L344.4 386.7L347.1 386.3L349.6 386.2L352.1 386.5L355.1 387.2L357.9 388.2L360.1 389.4L361.9 390.7L362.5 391.3L363.0 392.1L363.5 393.3L363.6 394.1L363.6 394.8L363.4 395.6L363.1 396.3L362.6 397.1L361.8 398.1L358.1 401.1L356.3 402.8L354.9 404.9L352.2 409.6L351.3 410.8L350.4 411.8L349.1 413.1L347.6 414.2L346.1 415.1L344.1 416.2L342.1 417.0L339.9 417.6L337.6 418.1ZM335.9 417.3L334.1 417.4L332.1 417.4L330.1 417.2L328.4 416.9L326.6 416.4L324.9 415.7L323.6 415.0L322.4 414.0L321.6 413.1L321.0 412.1L320.5 410.8L320.5 409.6L320.7 408.3L321.2 407.1L321.9 405.8L322.8 404.8L324.9 403.0L329.3 400.1L330.9 398.8L332.1 397.6L335.2 393.8L337.0 392.1L339.4 390.5L340.6 389.9L342.1 389.3L344.1 388.7L346.4 388.3L348.6 388.3L350.9 388.5L353.4 389.0L356.1 390.0L358.1 390.9L359.6 392.0L360.3 392.8L360.7 393.8L360.7 394.8L360.4 395.6L359.9 396.3L359.1 397.1L355.9 399.3L354.6 400.3L353.6 401.3L352.8 402.3L352.3 403.1L351.9 404.1L351.3 407.3L350.8 408.8L349.9 410.3L348.9 411.6L347.6 412.8L346.4 413.7L344.9 414.6L343.1 415.5L341.4 416.1L339.6 416.7L337.4 417.1ZM335.1 416.8L333.4 416.9L331.6 416.8L329.9 416.6L328.1 416.2L326.9 415.9L325.4 415.2L324.1 414.5L323.1 413.7L322.3 412.8L321.7 411.8L321.3 410.8L321.2 409.8L321.4 408.6L321.7 407.6L322.3 406.6L323.0 405.6L324.6 404.0L326.6 402.6L328.4 401.7L332.5 399.8L333.9 399.1L335.0 398.1L337.2 395.1L338.6 393.6L340.4 392.2L342.6 391.1L344.1 390.7L345.9 390.4L347.6 390.3L349.4 390.4L351.1 390.8L353.1 391.5L354.8 392.3L355.8 393.1L356.3 393.6L356.5 394.1L356.5 394.6L356.2 395.3L355.5 396.1L352.9 398.2L351.4 399.6L350.2 400.8L349.7 401.6L349.6 402.1L349.5 402.6L350.1 405.6L350.2 406.6L350.1 407.3L349.9 408.3L349.5 409.3L349.0 410.1L348.3 411.1L347.1 412.3L345.9 413.2L344.4 414.2L342.9 414.9L340.9 415.7L339.1 416.2L336.9 416.6ZM335.9 416.3L334.4 416.4L332.6 416.4L329.6 416.1L328.4 415.8L326.9 415.4L325.9 414.9L324.6 414.2L323.6 413.4L322.8 412.6L322.2 411.6L322.0 410.8L321.9 410.1L321.9 409.1L322.2 408.1L322.6 407.1L323.5 405.8L324.6 404.7L325.9 403.7L327.6 402.7L329.1 401.9L330.9 401.2L336.4 399.6L338.1 398.8L338.8 398.1L339.8 396.3L340.6 395.2L341.6 394.3L342.8 393.6L344.4 393.0L346.1 392.7L347.6 392.8L349.1 393.3L349.8 393.8L350.2 394.3L350.4 395.1L350.2 395.8L349.8 396.6L349.2 397.3L346.8 399.8L346.6 400.6L346.8 401.3L348.2 403.3L348.7 404.3L349.2 405.8L349.3 406.8L349.2 407.8L348.9 408.8L348.4 409.8L347.5 411.1L346.4 412.2L345.1 413.1L343.4 414.2L341.6 414.9L340.1 415.4L338.1 416.0ZM334.6 416.1L333.1 416.1L331.4 416.0L329.6 415.7L328.4 415.4L326.9 414.9L325.9 414.5L324.8 413.8L323.9 413.1L323.3 412.3L322.7 411.3L322.5 410.6L322.4 409.6L322.6 408.6L322.9 407.6L323.5 406.6L324.1 405.8L325.1 404.9L326.4 403.9L327.6 403.1L329.1 402.4L330.9 401.7L332.6 401.2L336.4 400.4L339.6 400.1L340.9 400.2L342.1 400.4L343.1 400.6L344.4 401.2L345.6 402.0L346.4 402.6L347.3 403.6L348.0 404.6L348.4 405.6L348.7 406.8L348.5 408.1L348.2 409.1L347.7 410.1L346.9 411.1L345.8 412.1L344.6 413.0L343.4 413.7L341.9 414.4L340.4 415.0L338.6 415.5L336.4 415.9ZM336.1 415.6L334.6 415.7L332.9 415.7L331.4 415.6L329.9 415.4L327.4 414.7L326.1 414.1L325.1 413.4L324.4 412.8L323.8 412.1L323.3 411.1L323.1 410.3L323.0 409.3L323.2 408.3L323.7 407.3L324.1 406.6L325.0 405.6L325.9 404.8L327.1 403.9L328.4 403.2L329.6 402.6L331.4 402.0L334.6 401.2L337.9 400.8L339.4 400.8L340.9 401.0L342.1 401.3L343.4 401.7L344.6 402.2L345.6 402.9L346.6 403.8L347.2 404.6L347.7 405.6L347.9 406.3L348.0 407.3L347.9 408.3L347.5 409.3L346.9 410.3L346.0 411.3L345.1 412.1L343.9 413.0L342.6 413.7L340.9 414.4L339.4 414.9L337.6 415.3Z" fill="none" stroke="#111" stroke-width="0.55" stroke-linejoin="round"/>
<path d="M335.9 413.1L333.9 413.2L331.9 413.0L330.4 412.5L328.9 411.8L327.9 410.8L327.4 409.8L327.4 409.3L327.5 408.6L327.8 407.8L328.1 407.3L328.6 406.7L329.3 406.1L330.9 405.1L332.9 404.3L334.9 403.9L337.1 403.7L339.1 403.9L340.9 404.4L341.6 404.8L342.3 405.3L343.2 406.3L343.4 406.8L343.5 407.6L343.5 408.1L343.3 408.8L342.6 409.9L341.4 411.1L339.9 411.9L337.9 412.7Z" fill="none" stroke="#666" stroke-width="0.40" stroke-linejoin="round"/>
<path d="M330.1 409.4L341.1 408.0" fill="none" stroke="#fff" stroke-opacity="0.85" stroke-width="0.8" stroke-linecap="round"/>
<text x="362.60" y="408.00" font-size="6.60" font-weight="bold" text-anchor="start">83.8%</text>
<rect x="420.20" y="355.80" width="95.50" height="94.50" fill="none" stroke="#111" stroke-width="0.90"/>
<line x1="417.00" y1="383.70" x2="420.20" y2="383.70" stroke="#111" stroke-width="0.80"/>
<text x="416.50" y="385.95" font-size="6.35" font-weight="bold" text-anchor="end">100</text>
<line x1="417.00" y1="408.30" x2="420.20" y2="408.30" stroke="#111" stroke-width="0.80"/>
<text x="416.50" y="410.55" font-size="6.35" font-weight="bold" text-anchor="end">10</text>
<line x1="417.00" y1="415.70" x2="420.20" y2="415.70" stroke="#111" stroke-width="0.80"/>
<text x="416.50" y="417.95" font-size="6.35" font-weight="bold" text-anchor="end">5</text>
<line x1="417.00" y1="425.90" x2="420.20" y2="425.90" stroke="#111" stroke-width="0.80"/>
<text x="416.50" y="428.15" font-size="6.35" font-weight="bold" text-anchor="end">2</text>
<line x1="417.00" y1="433.30" x2="420.20" y2="433.30" stroke="#111" stroke-width="0.80"/>
<text x="416.50" y="435.55" font-size="6.35" font-weight="bold" text-anchor="end">1</text>
<line x1="417.00" y1="450.30" x2="420.20" y2="450.30" stroke="#111" stroke-width="0.80"/>
<text x="416.50" y="452.55" font-size="6.35" font-weight="bold" text-anchor="end">0.1</text>
<line x1="418.00" y1="359.30" x2="420.20" y2="359.30" stroke="#111" stroke-width="0.80"/>
<line x1="420.20" y1="450.30" x2="420.20" y2="452.30" stroke="#111" stroke-width="0.80"/>
<text x="420.20" y="458.50" font-size="6.35" font-weight="bold" text-anchor="middle">0</text>
<line x1="443.20" y1="450.30" x2="443.20" y2="452.30" stroke="#111" stroke-width="0.80"/>
<text x="443.20" y="458.50" font-size="6.35" font-weight="bold" text-anchor="middle">200</text>
<line x1="466.20" y1="450.30" x2="466.20" y2="452.30" stroke="#111" stroke-width="0.80"/>
<text x="466.20" y="458.50" font-size="6.35" font-weight="bold" text-anchor="middle">400</text>
<line x1="489.20" y1="450.30" x2="489.20" y2="452.30" stroke="#111" stroke-width="0.80"/>
<text x="489.20" y="458.50" font-size="6.35" font-weight="bold" text-anchor="middle">600</text>
<line x1="513.40" y1="450.30" x2="513.40" y2="452.30" stroke="#111" stroke-width="0.80"/>
<text x="424.70" y="365.20" font-size="8.20" font-weight="bold" text-anchor="start">C5</text>
<rect x="430.70" y="397.40" width="41.10" height="19.20" fill="none" stroke="#222" stroke-width="0.70"/>
<path d="M447.7 418.6L445.7 418.7L443.9 418.6L442.2 418.4L440.4 417.9L438.9 417.3L437.7 416.6L436.7 415.8L435.8 414.8L435.1 413.8L434.6 412.6L434.3 411.3L434.2 409.8L434.4 408.3L434.8 406.8L435.5 405.3L436.3 404.1L437.6 402.3L439.4 400.5L441.7 398.7L446.7 395.3L447.8 394.3L449.2 392.5L450.0 391.6L451.2 390.7L452.7 389.8L454.4 389.2L456.2 388.7L458.2 388.5L460.2 388.4L462.2 388.5L463.9 388.8L465.4 389.3L466.8 390.1L467.6 390.8L468.2 391.6L468.4 392.3L468.4 393.1L468.2 393.8L467.7 394.6L467.1 395.3L465.4 396.9L465.0 397.6L464.8 398.1L464.7 399.3L465.1 403.1L464.9 405.1L464.7 406.1L464.3 407.3L463.8 408.6L463.0 409.8L461.7 411.6L460.2 413.0L458.4 414.4L456.4 415.7L454.4 416.7L451.9 417.7L449.9 418.2ZM448.2 417.8L446.4 418.0L444.7 418.0L442.9 417.7L441.7 417.5L440.2 416.9L439.2 416.5L438.2 415.8L437.2 415.0L436.4 414.1L435.9 413.1L435.4 411.8L435.2 410.6L435.2 409.3L435.4 408.1L435.8 406.8L436.3 405.6L437.2 404.1L438.4 402.6L439.9 401.1L441.4 399.9L443.2 398.7L444.9 397.6L451.1 394.6L454.7 392.0L456.4 391.2L457.4 391.0L458.7 390.8L459.9 390.9L460.9 391.0L461.9 391.3L462.5 391.6L462.9 391.8L463.4 392.3L463.7 393.1L463.6 393.6L463.4 394.1L462.5 395.8L462.3 396.8L462.5 397.8L463.7 401.3L464.0 402.6L464.1 403.6L464.0 404.8L463.8 406.1L463.4 407.3L462.8 408.6L461.9 410.1L460.4 411.8L458.9 413.2L456.9 414.6L454.9 415.7L452.7 416.7L450.4 417.4ZM446.9 417.3L445.4 417.3L443.9 417.2L442.7 417.0L441.4 416.6L440.2 416.1L439.2 415.5L438.3 414.8L437.5 414.1L436.8 413.1L436.4 412.1L436.1 411.1L436.0 410.1L436.0 409.1L436.3 407.8L436.6 406.8L437.1 405.6L437.9 404.3L438.7 403.3L439.6 402.3L440.7 401.3L443.2 399.4L444.9 398.4L446.4 397.7L448.4 396.9L450.4 396.2L452.4 395.7L453.9 395.5L455.2 395.4L456.4 395.5L457.4 395.7L458.4 396.1L459.9 397.2L461.2 398.6L462.3 400.3L462.9 401.8L463.2 403.6L463.1 405.3L462.8 406.8L462.0 408.6L460.9 410.3L459.4 411.9L457.7 413.3L455.7 414.7L453.7 415.7L451.4 416.5L449.4 417.0ZM448.7 416.6L447.2 416.7L445.7 416.8L444.2 416.6L442.9 416.4L441.7 416.0L440.7 415.6L439.7 415.0L438.8 414.3L438.1 413.6L437.5 412.6L437.1 411.6L436.8 410.6L436.8 409.6L436.9 408.3L437.1 407.3L437.6 406.1L438.3 404.8L439.0 403.8L439.9 402.8L441.0 401.8L441.9 401.0L443.4 399.9L444.9 399.1L446.4 398.4L448.2 397.7L449.9 397.2L451.4 396.9L452.9 396.7L454.4 396.6L455.7 396.8L456.7 397.0L457.9 397.4L459.2 398.2L460.5 399.3L461.4 400.6L462.1 402.1L462.4 403.6L462.4 405.1L462.1 406.6L461.5 408.1L460.6 409.6L459.4 411.1L457.9 412.4L456.2 413.7L454.4 414.7L452.7 415.5L450.7 416.1ZM448.4 416.1L446.9 416.2L445.4 416.2L444.2 416.1L442.9 415.8L441.7 415.4L440.7 414.9L439.9 414.3L439.1 413.6L438.5 412.8L437.9 411.8L437.6 410.8L437.5 409.8L437.5 408.8L437.7 407.8L438.1 406.6L438.6 405.6L439.4 404.3L440.2 403.3L442.2 401.4L443.7 400.4L444.9 399.7L447.7 398.5L449.2 398.0L450.7 397.7L452.2 397.5L453.4 397.4L454.7 397.5L455.9 397.7L456.9 398.0L457.9 398.4L459.2 399.3L460.3 400.3L461.1 401.6L461.5 402.8L461.7 404.1L461.7 405.6L461.4 406.8L460.7 408.3L459.8 409.8L458.7 411.1L457.2 412.4L455.7 413.4L453.9 414.4L452.2 415.2L450.4 415.7ZM448.2 415.6L445.7 415.6L444.4 415.5L443.2 415.2L442.2 414.9L441.2 414.3L440.4 413.8L439.6 413.1L439.0 412.3L438.6 411.3L438.3 410.6L438.2 409.6L438.3 408.6L438.5 407.3L438.9 406.3L439.4 405.3L440.1 404.3L441.0 403.3L442.9 401.6L444.2 400.7L445.4 400.0L448.2 398.9L449.7 398.5L451.2 398.2L453.7 398.1L454.7 398.2L455.9 398.5L456.9 398.9L457.9 399.4L458.9 400.1L459.8 401.1L460.4 402.1L460.9 403.3L461.0 404.6L460.9 405.8L460.6 407.1L459.9 408.6L459.0 409.8L457.9 411.1L456.7 412.1L455.2 413.1L453.7 413.9L451.9 414.7L450.2 415.2ZM447.7 415.1L446.4 415.1L445.2 415.0L443.2 414.5L442.2 414.1L441.4 413.7L440.7 413.1L440.0 412.3L439.5 411.6L439.1 410.6L439.0 409.8L439.0 408.8L439.3 407.1L439.8 406.1L440.3 405.1L441.8 403.3L443.7 401.7L445.9 400.4L447.2 399.8L448.7 399.3L451.2 398.8L452.4 398.8L453.7 398.8L454.9 399.0L455.9 399.3L456.9 399.7L457.7 400.1L458.7 401.0L459.4 401.8L459.9 402.8L460.2 404.1L460.2 405.3L460.0 406.6L459.5 407.8L458.8 409.1L457.8 410.3L456.7 411.4L455.4 412.3L453.9 413.2L452.4 413.9L450.9 414.5L449.2 414.9ZM449.2 414.3L446.9 414.5L445.7 414.4L444.7 414.3L443.7 414.0L442.7 413.6L441.9 413.1L441.2 412.6L440.6 411.8L440.2 411.1L439.9 410.3L439.7 409.6L439.7 408.8L439.9 407.8L440.5 406.1L441.7 404.3L442.4 403.5L443.4 402.6L445.4 401.3L447.7 400.2L449.9 399.6L451.2 399.4L452.4 399.4L453.7 399.5L454.7 399.6L456.4 400.3L457.4 400.9L458.2 401.6L458.9 402.6L459.3 403.6L459.5 404.6L459.4 405.8L459.1 407.1L458.7 408.1L457.8 409.3L457.0 410.3L455.9 411.2L454.9 412.1L453.4 412.9L452.2 413.4L450.7 414.0Z" fill="none" stroke="#111" stroke-width="0.55" stroke-linejoin="round"/>
<path d="M448.4 411.3L447.2 411.3L446.2 411.0L445.2 410.5L444.4 409.8L444.0 408.8L443.9 407.8L444.2 406.8L444.8 405.8L445.7 404.8L446.7 404.0L448.1 403.3L449.4 402.9L450.7 402.7L451.9 402.7L453.2 403.0L454.1 403.6L454.6 404.1L455.0 404.6L455.2 405.1L455.3 405.8L455.1 407.1L454.4 408.3L453.2 409.5L451.7 410.4L450.1 411.1Z" fill="none" stroke="#666" stroke-width="0.40" stroke-linejoin="round"/>
<path d="M445.2 406.8L454.2 405.2M445.7 409.2L454.2 407.6M447.2 404.6L453.2 403.6" fill="none" stroke="#fff" stroke-opacity="0.85" stroke-width="0.8" stroke-linecap="round"/>
<text x="476.70" y="408.00" font-size="6.60" font-weight="bold" text-anchor="start">90.6%</text>
<rect x="49.00" y="48.40" width="95.00" height="93.20" fill="none" stroke="#111" stroke-width="0.90"/>
<line x1="45.80" y1="76.30" x2="49.00" y2="76.30" stroke="#111" stroke-width="0.80"/>
<text x="45.20" y="78.60" font-size="6.60" font-weight="bold" text-anchor="end">100</text>
<line x1="45.80" y1="100.60" x2="49.00" y2="100.60" stroke="#111" stroke-width="0.80"/>
<text x="45.20" y="102.90" font-size="6.60" font-weight="bold" text-anchor="end">10</text>
<line x1="45.80" y1="107.30" x2="49.00" y2="107.30" stroke="#111" stroke-width="0.80"/>
<text x="45.20" y="109.60" font-size="6.60" font-weight="bold" text-anchor="end">5</text>
<line x1="45.80" y1="117.60" x2="49.00" y2="117.60" stroke="#111" stroke-width="0.80"/>
<text x="45.20" y="119.90" font-size="6.60" font-weight="bold" text-anchor="end">2</text>
<line x1="45.80" y1="124.60" x2="49.00" y2="124.60" stroke="#111" stroke-width="0.80"/>
<text x="45.20" y="126.90" font-size="6.60" font-weight="bold" text-anchor="end">1</text>
<line x1="45.80" y1="141.60" x2="49.00" y2="141.60" stroke="#111" stroke-width="0.80"/>
<text x="45.20" y="143.90" font-size="6.60" font-weight="bold" text-anchor="end">0.1</text>
<line x1="46.80" y1="51.90" x2="49.00" y2="51.90" stroke="#111" stroke-width="0.80"/>
<text x="48.50" y="150.60" font-size="6.60" font-weight="bold" text-anchor="middle">0.1</text>
<line x1="67.00" y1="141.60" x2="67.00" y2="143.60" stroke="#111" stroke-width="0.80"/>
<text x="67.00" y="150.60" font-size="6.60" font-weight="bold" text-anchor="middle">1</text>
<line x1="74.00" y1="141.60" x2="74.00" y2="143.60" stroke="#111" stroke-width="0.80"/>
<text x="74.00" y="150.60" font-size="6.60" font-weight="bold" text-anchor="middle">2</text>
<line x1="83.30" y1="141.60" x2="83.30" y2="143.60" stroke="#111" stroke-width="0.80"/>
<text x="83.30" y="150.60" font-size="6.60" font-weight="bold" text-anchor="middle">5</text>
<line x1="92.00" y1="141.60" x2="92.00" y2="143.60" stroke="#111" stroke-width="0.80"/>
<text x="92.00" y="150.60" font-size="6.60" font-weight="bold" text-anchor="middle">10</text>
<line x1="116.50" y1="141.60" x2="116.50" y2="143.60" stroke="#111" stroke-width="0.80"/>
<text x="116.50" y="150.60" font-size="6.60" font-weight="bold" text-anchor="middle">100</text>
<line x1="142.00" y1="141.60" x2="142.00" y2="143.60" stroke="#111" stroke-width="0.80"/>
<text x="54.50" y="58.20" font-size="8.30" font-weight="bold" text-anchor="start">C2</text>
<rect x="94.00" y="96.00" width="30.00" height="43.00" fill="none" stroke="#222" stroke-width="0.70"/>
<path d="M76.8 135.4L74.0 135.3L71.5 135.0L69.0 134.2L67.0 133.2L65.5 131.9L64.9 131.2L64.2 130.2L63.5 128.4L63.3 127.4L63.2 126.4L63.3 124.7L63.7 122.9L64.4 121.2L65.4 119.4L66.4 117.9L67.7 116.4L69.2 114.9L71.5 112.9L72.0 112.2L72.3 111.2L72.3 107.7L72.6 105.9L73.0 104.7L73.6 103.4L75.6 99.9L76.6 98.4L77.5 97.4L78.8 96.3L80.7 94.7L81.2 94.2L81.5 93.7L82.0 92.2L82.7 91.2L84.0 90.1L85.8 89.3L87.2 88.9L88.8 88.6L90.2 88.5L92.0 88.6L93.5 88.8L95.2 89.2L99.8 91.0L100.5 91.1L101.2 90.9L101.8 90.4L102.2 89.8L102.9 88.7L103.2 87.9L103.3 87.2L102.7 85.2L102.5 84.4L102.6 82.7L102.9 81.7L103.3 80.7L103.9 79.7L104.8 78.7L106.0 77.5L107.2 76.7L108.8 76.0L110.2 75.5L111.8 75.3L113.0 75.4L114.5 75.7L115.5 76.3L116.4 77.2L116.9 77.9L117.1 78.4L117.2 79.2L117.2 79.9L116.9 81.4L116.3 82.7L115.5 83.9L114.5 85.0L112.7 86.7L112.1 87.4L111.9 88.2L112.1 89.7L112.1 90.9L111.8 92.7L111.5 93.5L111.0 94.4L109.6 95.9L109.3 96.4L109.3 96.9L109.5 97.4L110.9 99.9L111.4 101.2L111.8 102.7L111.9 103.7L111.9 105.2L111.6 106.7L111.0 108.2L110.1 109.7L109.1 110.9L106.8 113.6L104.0 117.5L101.4 120.2L99.4 123.4L98.1 125.2L96.2 127.2L94.0 129.0L92.2 130.2L90.0 131.6L88.0 132.6L85.8 133.5L83.5 134.3L81.2 134.8L79.0 135.2ZM108.0 88.4L107.5 88.5L107.0 88.4L105.5 87.6L104.2 86.6L103.5 85.4L103.1 84.2L103.0 82.9L103.3 81.7L103.9 80.4L104.8 79.2L106.0 77.9L107.2 77.1L109.0 76.2L110.5 75.8L112.0 75.7L113.5 75.8L114.8 76.3L115.5 76.8L116.0 77.3L116.4 77.9L116.7 78.7L116.8 79.4L116.8 80.4L116.6 81.2L116.1 82.4L115.6 83.2L114.8 84.2L113.0 85.8L110.5 87.3L109.0 88.1ZM79.5 133.2L77.0 133.4L74.5 133.2L72.2 132.8L70.2 132.0L68.6 130.9L67.8 130.2L67.2 129.5L66.4 127.9L66.0 126.2L66.0 124.7L66.3 123.2L66.9 121.4L67.7 119.7L68.4 118.4L69.6 116.7L70.6 115.4L72.8 113.0L73.2 112.2L73.3 111.4L73.0 109.7L72.9 108.4L73.0 107.4L73.2 106.2L73.6 104.7L74.4 102.9L75.4 100.9L76.4 99.4L77.8 97.8L79.2 96.5L80.8 95.5L83.6 94.2L84.4 93.7L85.5 92.2L86.2 91.5L87.8 90.8L89.5 90.4L91.5 90.4L93.5 90.8L94.7 91.4L96.1 92.4L97.0 92.9L98.6 93.4L101.0 93.9L102.8 94.3L105.0 95.2L106.8 96.3L108.2 97.5L109.6 99.2L110.6 100.9L111.2 102.7L111.3 104.4L111.1 106.2L110.4 108.2L109.3 109.9L106.8 112.9L104.5 115.9L103.5 117.1L102.0 118.2L99.7 119.2L98.9 119.7L98.5 120.2L97.2 122.7L96.2 124.2L94.5 126.0L92.5 127.7L91.0 128.8L89.5 129.8L86.2 131.4L84.5 132.0L82.8 132.5ZM107.8 91.0L107.5 91.0L107.2 90.9L107.2 90.4L107.5 90.2L107.8 90.3L107.8 90.4L107.9 90.7ZM109.2 87.2L107.8 87.3L106.2 87.1L105.2 86.6L104.2 85.7L103.7 84.7L103.4 83.4L103.6 81.9L104.1 80.7L104.9 79.4L106.0 78.3L107.5 77.2L109.0 76.5L110.5 76.1L112.0 76.0L113.2 76.1L114.5 76.5L115.2 77.1L115.8 77.6L116.1 78.2L116.4 78.9L116.5 79.7L116.4 80.4L116.2 81.4L115.9 82.2L114.9 83.7L114.0 84.6L113.2 85.2L111.5 86.3L110.5 86.8ZM80.5 131.2L78.0 131.4L75.8 131.3L73.5 130.8L71.8 130.0L70.4 128.9L69.4 127.7L68.8 126.2L68.4 124.2L68.3 122.7L68.5 121.4L68.8 119.9L69.4 118.4L70.6 116.4L71.6 115.2L73.5 113.0L74.0 112.2L74.0 111.4L73.7 109.7L73.5 108.4L73.6 107.2L73.8 105.9L74.3 104.2L75.2 102.2L76.1 100.4L77.0 99.2L78.0 98.0L79.2 97.0L80.2 96.3L81.8 95.6L84.2 94.8L87.1 94.2L89.5 93.5L91.0 93.2L92.5 93.2L94.5 93.5L100.0 94.3L101.5 94.6L102.8 95.0L104.0 95.5L105.8 96.5L107.0 97.3L108.0 98.2L108.8 99.2L109.6 100.2L110.1 101.2L110.5 102.2L110.7 103.2L110.8 104.2L110.7 105.4L110.2 107.2L109.4 108.9L104.6 115.2L103.2 116.6L102.0 117.5L100.5 118.0L98.2 118.2L97.5 118.6L96.8 119.4L94.5 122.9L93.3 124.4L91.5 126.2L89.5 127.7L87.2 129.0L85.0 130.0L82.8 130.7ZM109.5 86.7L108.0 86.9L106.8 86.7L105.8 86.3L104.8 85.6L104.1 84.7L103.8 83.7L103.8 82.4L104.2 81.2L104.9 79.9L106.0 78.7L107.2 77.7L108.5 77.0L110.0 76.5L111.5 76.2L112.8 76.3L114.0 76.7L114.8 77.1L115.2 77.5L115.7 78.2L115.9 78.7L116.1 79.4L116.1 80.2L115.9 81.2L115.7 81.9L114.7 83.4L113.2 84.8L111.5 86.0L110.8 86.3ZM79.0 129.4L77.2 129.3L75.5 129.0L74.0 128.4L72.5 127.5L71.0 126.1L70.1 124.9L69.5 123.7L69.3 122.2L69.3 120.9L69.5 119.9L69.8 118.9L70.4 117.7L71.7 115.7L73.8 113.2L74.5 112.2L74.6 111.7L74.6 111.2L74.2 109.2L74.1 107.9L74.1 106.7L74.4 105.4L75.1 103.2L75.9 101.4L76.8 99.9L77.8 98.7L78.8 97.8L80.0 96.8L81.5 96.1L83.0 95.5L85.2 95.1L90.5 94.3L93.0 94.1L95.2 94.2L99.0 94.6L100.5 94.8L101.8 95.1L103.0 95.5L104.5 96.3L106.0 97.3L107.4 98.4L108.1 99.2L108.9 100.2L109.8 101.9L110.1 102.9L110.2 103.9L110.2 104.9L110.1 105.9L109.6 107.4L108.7 109.2L105.2 113.9L104.0 115.4L102.8 116.5L101.5 117.2L100.2 117.4L98.2 117.5L97.3 117.9L96.8 118.4L94.2 121.2L91.8 123.6L89.2 125.6L87.0 127.1L85.0 128.1L83.0 128.8L81.0 129.2ZM109.2 86.4L108.0 86.5L106.8 86.3L105.8 85.9L104.9 85.2L104.3 84.2L104.1 83.2L104.2 82.2L104.6 80.9L105.4 79.7L106.4 78.7L107.5 77.8L109.0 77.0L110.5 76.6L111.8 76.5L113.0 76.6L114.0 77.0L115.0 77.8L115.5 78.4L115.7 78.9L115.8 79.7L115.8 80.4L115.6 81.2L115.4 81.9L114.4 83.4L113.0 84.7L111.2 85.8L110.0 86.2ZM79.5 127.7L77.2 127.6L75.5 127.3L74.0 126.8L72.5 126.1L71.4 125.2L70.6 124.2L70.1 122.9L69.9 121.7L69.9 120.7L70.1 119.7L70.9 117.7L72.0 115.9L74.3 113.2L75.0 111.9L75.1 110.9L74.7 109.2L74.6 107.9L74.6 106.7L74.9 105.2L75.4 103.4L76.1 101.7L77.0 100.2L78.0 98.9L79.0 97.9L80.2 97.0L81.8 96.3L83.2 95.8L86.0 95.3L91.2 94.7L93.5 94.6L95.5 94.7L99.5 95.0L101.8 95.5L103.0 95.9L104.2 96.6L105.8 97.6L107.0 98.7L108.3 100.2L108.9 101.2L109.3 101.9L109.7 103.7L109.7 104.7L109.6 105.7L109.1 107.4L108.3 108.9L105.4 113.2L104.0 115.0L102.8 116.1L101.5 116.7L100.2 117.0L98.2 117.1L97.3 117.4L96.7 117.9L94.2 120.5L92.5 122.0L90.0 123.8L87.5 125.3L85.2 126.3L83.2 127.0L81.2 127.5ZM108.8 86.2L107.5 86.1L106.5 85.9L105.7 85.4L105.0 84.7L104.5 83.7L104.5 82.7L104.6 81.7L105.2 80.4L106.0 79.4L107.0 78.5L108.0 77.8L109.2 77.2L110.5 76.9L111.8 76.8L113.0 77.0L114.0 77.4L114.9 78.2L115.2 78.7L115.4 79.4L115.5 80.2L115.4 80.9L115.1 81.7L114.8 82.4L114.2 83.2L113.5 83.9L112.0 85.1L110.5 85.8ZM81.0 126.7L79.0 126.8L77.0 126.8L75.2 126.4L73.5 125.8L72.2 125.0L71.4 124.2L70.7 122.9L70.5 121.7L70.5 120.7L70.6 119.7L70.9 118.7L71.4 117.7L72.6 115.7L74.9 112.9L75.6 111.7L75.7 110.7L75.3 108.9L75.1 107.7L75.2 106.4L75.4 104.9L75.9 103.2L76.3 101.9L77.2 100.4L78.1 99.2L79.2 98.1L80.5 97.2L81.5 96.7L83.0 96.2L85.5 95.7L93.2 95.1L95.0 95.1L99.2 95.4L101.2 95.7L102.2 96.0L103.5 96.6L104.7 97.4L105.9 98.4L107.4 99.9L108.1 100.9L108.5 101.7L108.8 102.4L109.1 103.4L109.1 105.2L108.7 106.9L107.9 108.7L105.6 112.4L104.1 114.4L102.8 115.6L101.5 116.3L100.5 116.5L98.2 116.6L97.5 116.9L97.0 117.2L96.1 117.9L94.0 120.2L92.5 121.4L90.2 123.1L88.2 124.2L86.5 125.1L84.5 125.8L82.8 126.3Z" fill="none" stroke="#111" stroke-width="0.55" stroke-linejoin="round"/>
<ellipse cx="84.8" cy="103.6" rx="2.8" ry="1.9" transform="rotate(0 84.8 103.6)" fill="#fff" stroke="#888" stroke-width="0.3"/>
<ellipse cx="100.6" cy="106.6" rx="1.1" ry="4.2" transform="rotate(0 100.6 106.6)" fill="#fff" stroke="#888" stroke-width="0.3"/>
<ellipse cx="81.0" cy="118.8" rx="2.8" ry="1.0" transform="rotate(-25 81.0 118.8)" fill="#fff" stroke="#888" stroke-width="0.3"/>
<path d="M90.5 114.2L93.5 112.8" fill="none" stroke="#fff" stroke-opacity="0.85" stroke-width="0.8" stroke-linecap="round"/>
<rect x="48.40" y="290.40" width="95.00" height="93.20" fill="none" stroke="#111" stroke-width="0.90"/>
<line x1="45.20" y1="318.30" x2="48.40" y2="318.30" stroke="#111" stroke-width="0.80"/>
<text x="44.60" y="320.60" font-size="6.60" font-weight="bold" text-anchor="end">100</text>
<line x1="45.20" y1="342.60" x2="48.40" y2="342.60" stroke="#111" stroke-width="0.80"/>
<text x="44.60" y="344.90" font-size="6.60" font-weight="bold" text-anchor="end">10</text>
<line x1="45.20" y1="349.30" x2="48.40" y2="349.30" stroke="#111" stroke-width="0.80"/>
<text x="44.60" y="351.60" font-size="6.60" font-weight="bold" text-anchor="end">5</text>
<line x1="45.20" y1="359.60" x2="48.40" y2="359.60" stroke="#111" stroke-width="0.80"/>
<text x="44.60" y="361.90" font-size="6.60" font-weight="bold" text-anchor="end">2</text>
<line x1="45.20" y1="366.60" x2="48.40" y2="366.60" stroke="#111" stroke-width="0.80"/>
<text x="44.60" y="368.90" font-size="6.60" font-weight="bold" text-anchor="end">1</text>
<line x1="45.20" y1="383.60" x2="48.40" y2="383.60" stroke="#111" stroke-width="0.80"/>
<text x="44.60" y="385.90" font-size="6.60" font-weight="bold" text-anchor="end">0.1</text>
<line x1="46.20" y1="293.90" x2="48.40" y2="293.90" stroke="#111" stroke-width="0.80"/>
<text x="47.90" y="392.60" font-size="6.60" font-weight="bold" text-anchor="middle">0.1</text>
<line x1="66.40" y1="383.60" x2="66.40" y2="385.60" stroke="#111" stroke-width="0.80"/>
<text x="66.40" y="392.60" font-size="6.60" font-weight="bold" text-anchor="middle">1</text>
<line x1="73.40" y1="383.60" x2="73.40" y2="385.60" stroke="#111" stroke-width="0.80"/>
<text x="73.40" y="392.60" font-size="6.60" font-weight="bold" text-anchor="middle">2</text>
<line x1="82.70" y1="383.60" x2="82.70" y2="385.60" stroke="#111" stroke-width="0.80"/>
<text x="82.70" y="392.60" font-size="6.60" font-weight="bold" text-anchor="middle">5</text>
<line x1="91.40" y1="383.60" x2="91.40" y2="385.60" stroke="#111" stroke-width="0.80"/>
<text x="91.40" y="392.60" font-size="6.60" font-weight="bold" text-anchor="middle">10</text>
<line x1="115.90" y1="383.60" x2="115.90" y2="385.60" stroke="#111" stroke-width="0.80"/>
<text x="115.90" y="392.60" font-size="6.60" font-weight="bold" text-anchor="middle">100</text>
<line x1="141.40" y1="383.60" x2="141.40" y2="385.60" stroke="#111" stroke-width="0.80"/>
<text x="53.90" y="300.20" font-size="8.30" font-weight="bold" text-anchor="start">C2</text>
<rect x="94.00" y="302.20" width="30.00" height="31.70" fill="none" stroke="#222" stroke-width="0.70"/>
<path d="M76.2 377.4L73.4 377.3L70.9 377.0L68.4 376.2L66.4 375.1L64.9 373.9L64.3 373.1L63.6 372.1L62.9 370.4L62.7 369.4L62.6 368.4L62.7 366.6L63.1 364.9L63.8 363.1L64.8 361.4L65.8 359.9L67.1 358.4L68.6 356.9L70.9 354.9L71.4 354.1L71.7 353.1L71.7 349.6L72.0 347.9L72.4 346.6L73.0 345.4L75.0 341.9L76.0 340.4L76.9 339.4L78.2 338.3L80.1 336.6L80.6 336.1L80.9 335.6L81.4 334.1L82.1 333.1L83.4 332.1L85.2 331.3L86.7 330.9L88.2 330.6L89.7 330.5L91.4 330.6L92.9 330.8L94.7 331.2L99.2 333.0L99.9 333.1L100.7 332.9L101.2 332.4L101.7 331.8L102.3 330.6L102.7 329.9L102.7 329.1L102.1 327.1L101.9 326.4L102.0 324.6L102.3 323.6L102.7 322.6L103.3 321.6L104.2 320.6L105.4 319.5L106.7 318.7L108.2 318.0L109.7 317.5L111.2 317.3L112.4 317.4L113.9 317.7L114.9 318.3L115.8 319.1L116.3 319.9L116.5 320.4L116.6 321.1L116.6 321.9L116.3 323.4L115.7 324.6L114.9 325.9L113.9 327.0L112.1 328.6L111.5 329.4L111.3 330.1L111.5 331.6L111.5 332.9L111.2 334.6L110.9 335.5L110.4 336.4L109.0 337.9L108.7 338.4L108.7 338.9L108.9 339.4L110.3 341.9L110.8 343.1L111.2 344.6L111.3 345.6L111.3 347.1L111.0 348.6L110.4 350.1L109.5 351.6L108.5 352.9L106.2 355.6L103.4 359.5L100.8 362.1L98.8 365.4L97.5 367.1L95.6 369.1L93.4 371.0L91.7 372.2L89.4 373.6L87.4 374.6L85.2 375.5L82.9 376.3L80.7 376.8L78.4 377.2ZM107.4 330.4L106.9 330.5L106.4 330.4L104.9 329.6L103.7 328.6L102.9 327.4L102.5 326.1L102.4 324.9L102.7 323.6L103.3 322.4L104.2 321.1L105.4 319.9L106.7 319.1L108.4 318.2L109.9 317.8L111.4 317.7L112.9 317.8L114.2 318.3L114.9 318.8L115.4 319.3L115.8 319.9L116.1 320.6L116.2 321.4L116.2 322.4L116.0 323.1L115.5 324.4L115.0 325.1L114.2 326.1L112.4 327.8L109.9 329.3L108.4 330.1ZM78.9 375.2L76.4 375.4L73.9 375.2L71.7 374.8L69.7 374.0L68.0 372.9L67.2 372.1L66.7 371.5L65.8 369.9L65.4 368.1L65.4 366.6L65.7 365.1L66.3 363.4L67.1 361.6L67.8 360.4L69.0 358.6L70.0 357.4L72.2 355.0L72.7 354.2L72.7 353.4L72.4 351.6L72.3 350.4L72.4 349.4L72.6 348.1L73.0 346.6L73.8 344.9L74.8 342.9L75.8 341.4L77.2 339.8L78.7 338.5L80.2 337.5L83.0 336.1L83.8 335.6L84.9 334.1L85.7 333.5L87.2 332.8L88.9 332.4L90.9 332.4L92.9 332.8L94.1 333.4L95.5 334.4L96.4 334.9L98.0 335.4L100.4 335.9L102.2 336.3L104.4 337.2L106.2 338.3L107.7 339.5L109.0 341.1L110.0 342.9L110.6 344.6L110.7 346.4L110.5 348.1L109.8 350.1L108.7 351.9L106.2 354.9L103.9 357.9L102.9 359.1L101.4 360.2L99.1 361.1L98.3 361.6L97.9 362.2L96.6 364.6L95.6 366.1L93.9 368.0L91.9 369.7L90.4 370.8L88.9 371.8L85.7 373.4L83.9 374.0L82.2 374.5ZM107.2 333.0L106.9 333.0L106.7 332.9L106.7 332.4L106.9 332.2L107.2 332.3L107.2 332.4L107.3 332.6ZM108.7 329.2L107.2 329.3L105.7 329.1L104.7 328.6L103.7 327.7L103.1 326.6L102.8 325.4L103.0 323.9L103.5 322.6L104.3 321.4L105.4 320.3L106.9 319.2L108.4 318.5L109.9 318.1L111.4 318.0L112.7 318.1L113.9 318.5L114.7 319.1L115.2 319.6L115.5 320.1L115.8 320.9L115.9 321.6L115.8 322.4L115.6 323.4L115.3 324.1L114.3 325.6L113.4 326.6L112.7 327.2L110.9 328.3L109.9 328.8ZM79.9 373.2L77.4 373.4L75.2 373.3L72.9 372.8L71.2 372.0L69.8 370.9L68.8 369.6L68.2 368.1L67.8 366.1L67.7 364.6L67.9 363.4L68.2 361.9L68.8 360.4L70.0 358.4L71.0 357.1L72.9 355.0L73.4 354.1L73.4 353.4L73.1 351.6L72.9 350.4L73.0 349.1L73.2 347.9L73.7 346.1L74.6 344.1L75.5 342.4L76.4 341.1L77.4 340.0L78.7 339.0L79.7 338.3L81.2 337.6L83.7 336.8L86.5 336.1L88.9 335.5L90.4 335.2L91.9 335.2L93.9 335.5L99.4 336.3L100.9 336.6L102.2 337.0L103.4 337.5L105.2 338.5L106.4 339.3L107.4 340.2L108.2 341.1L109.0 342.1L109.5 343.1L109.9 344.1L110.1 345.1L110.2 346.1L110.1 347.4L109.6 349.1L108.8 350.9L104.0 357.1L102.7 358.6L101.4 359.5L99.9 360.0L97.7 360.2L96.9 360.6L96.2 361.4L93.9 364.9L92.7 366.4L90.9 368.1L88.9 369.7L86.7 371.0L84.4 372.0L82.2 372.7ZM108.9 328.7L107.4 328.9L106.2 328.7L105.2 328.3L104.2 327.6L103.5 326.6L103.2 325.6L103.2 324.4L103.6 323.1L104.3 321.9L105.4 320.7L106.7 319.7L107.9 319.0L109.4 318.5L110.9 318.2L112.2 318.3L113.4 318.7L114.2 319.1L114.7 319.5L115.1 320.1L115.3 320.6L115.5 321.4L115.5 322.1L115.3 323.1L115.1 323.9L114.1 325.4L112.7 326.8L110.9 328.0L110.2 328.3ZM78.4 371.4L76.7 371.3L74.9 371.0L73.4 370.4L71.9 369.5L70.4 368.1L69.5 366.9L68.9 365.6L68.7 364.1L68.7 362.9L68.9 361.9L69.2 360.9L69.8 359.6L71.1 357.6L73.2 355.1L73.9 354.1L74.0 353.6L74.0 353.1L73.6 351.1L73.5 349.9L73.5 348.6L73.8 347.4L74.5 345.1L75.3 343.4L76.2 341.9L77.2 340.7L78.2 339.8L79.4 338.8L80.9 338.1L82.4 337.5L84.7 337.1L89.9 336.3L92.4 336.1L94.7 336.2L98.4 336.6L99.9 336.8L101.2 337.1L102.4 337.5L103.9 338.3L105.4 339.3L106.8 340.4L107.5 341.1L108.3 342.1L109.2 343.9L109.5 344.9L109.6 345.9L109.6 346.9L109.5 347.9L109.0 349.4L108.1 351.1L104.6 355.9L103.4 357.4L102.2 358.5L100.9 359.2L99.7 359.4L97.7 359.5L96.7 359.9L96.2 360.4L93.7 363.2L91.2 365.6L88.7 367.6L86.4 369.1L84.4 370.1L82.4 370.8L80.4 371.2ZM108.7 328.4L107.4 328.5L106.2 328.3L105.2 327.9L104.3 327.1L103.7 326.1L103.5 325.1L103.6 324.1L104.0 322.9L104.8 321.6L105.8 320.6L106.9 319.8L108.4 319.0L109.9 318.6L111.2 318.5L112.4 318.6L113.4 319.0L114.4 319.8L114.9 320.4L115.1 320.9L115.2 321.6L115.2 322.4L115.0 323.1L114.8 323.9L113.8 325.4L112.4 326.7L110.7 327.8L109.4 328.2ZM78.9 369.7L76.7 369.6L74.9 369.3L73.4 368.8L71.9 368.1L70.8 367.1L70.0 366.1L69.5 364.9L69.3 363.6L69.3 362.6L69.5 361.6L70.3 359.6L71.4 357.9L73.7 355.1L74.4 353.9L74.5 352.9L74.1 351.1L74.0 349.9L74.0 348.6L74.3 347.1L74.8 345.4L75.5 343.6L76.4 342.1L77.4 340.9L78.4 339.9L79.7 339.0L81.2 338.3L82.7 337.8L85.4 337.3L90.7 336.7L92.9 336.6L94.9 336.7L98.9 337.0L101.2 337.5L102.4 337.9L103.7 338.6L105.2 339.6L106.4 340.6L107.7 342.1L108.3 343.1L108.7 343.9L109.1 345.6L109.1 346.6L109.0 347.6L108.5 349.4L107.7 350.9L104.8 355.1L103.4 357.0L102.2 358.1L100.9 358.7L99.7 359.0L97.7 359.1L96.7 359.4L96.1 359.9L93.7 362.5L91.9 364.0L89.4 365.8L86.9 367.3L84.7 368.3L82.7 369.0L80.7 369.5ZM108.2 328.2L106.9 328.1L105.9 327.9L105.1 327.4L104.4 326.6L103.9 325.6L103.9 324.6L104.0 323.6L104.6 322.4L105.4 321.4L106.4 320.5L107.4 319.8L108.7 319.2L109.9 318.9L111.2 318.8L112.4 319.0L113.4 319.4L114.3 320.1L114.6 320.6L114.8 321.4L114.9 322.1L114.8 322.9L114.5 323.6L114.2 324.4L113.6 325.1L112.9 325.9L111.4 327.1L109.9 327.8ZM80.4 368.7L78.4 368.8L76.4 368.8L74.7 368.4L72.9 367.8L71.7 367.0L70.8 366.1L70.1 364.9L69.9 363.6L69.9 362.6L70.0 361.6L70.3 360.6L70.8 359.6L72.0 357.6L74.3 354.9L75.0 353.6L75.1 352.6L74.7 350.9L74.5 349.6L74.6 348.4L74.8 346.9L75.3 345.1L75.7 343.9L76.6 342.4L77.5 341.1L78.7 340.1L79.9 339.2L80.9 338.7L82.4 338.2L84.9 337.7L92.7 337.1L94.4 337.1L98.7 337.4L100.7 337.7L101.7 338.0L102.9 338.6L104.1 339.4L105.3 340.4L106.8 341.9L107.5 342.9L107.9 343.6L108.2 344.4L108.5 345.4L108.5 347.1L108.1 348.9L107.3 350.6L105.0 354.4L103.5 356.4L102.2 357.6L100.9 358.3L99.9 358.5L97.7 358.6L96.9 358.9L96.4 359.1L95.5 359.9L93.4 362.1L91.9 363.4L89.7 365.1L87.7 366.2L85.9 367.1L83.9 367.8L82.2 368.3Z" fill="none" stroke="#111" stroke-width="0.55" stroke-linejoin="round"/>
<ellipse cx="84.2" cy="345.6" rx="2.8" ry="1.9" transform="rotate(0 84.2 345.6)" fill="#fff" stroke="#888" stroke-width="0.3"/>
<ellipse cx="100.0" cy="348.6" rx="1.1" ry="4.2" transform="rotate(0 100.0 348.6)" fill="#fff" stroke="#888" stroke-width="0.3"/>
<ellipse cx="80.4" cy="360.8" rx="2.8" ry="1.0" transform="rotate(-25 80.4 360.8)" fill="#fff" stroke="#888" stroke-width="0.3"/>
<path d="M89.9 356.2L92.9 354.8" fill="none" stroke="#fff" stroke-opacity="0.85" stroke-width="0.8" stroke-linecap="round"/>
<text x="4.00" y="102.20" font-size="17.30" font-weight="bold" text-anchor="start">A</text>
<text x="3.90" y="345.50" font-size="17.60" font-weight="bold" text-anchor="start">B</text>
<text x="30.40" y="96.20" font-size="8.00" font-weight="bold" text-anchor="middle" transform="rotate(-90 30.40 96.20)">CD4/8 (phycoerythrin)</text>
<text x="29.40" y="337.60" font-size="8.00" font-weight="bold" text-anchor="middle" transform="rotate(-90 29.40 337.60)">CD4/8 (phycoerythrin)</text>
<text x="97.00" y="165.20" font-size="8.35" font-weight="bold" text-anchor="middle">CD3 (Fluorescein)</text>
<text x="97.00" y="406.20" font-size="8.35" font-weight="bold" text-anchor="middle">CD3 (Fluorescein)</text>
<text x="173.50" y="105.80" font-size="10.30" font-weight="bold" text-anchor="middle" transform="rotate(-90 173.50 105.80)">ORTHOGONAL SCATTER</text>
<text x="172.70" y="336.20" font-size="10.30" font-weight="bold" text-anchor="middle" transform="rotate(-90 172.70 336.20)">ORTHOGONAL SCATTER</text>
<text x="355.20" y="477.20" font-size="10.40" font-weight="bold" text-anchor="middle">FORWARD SCATTER</text>
</svg>
</body>
</html>
